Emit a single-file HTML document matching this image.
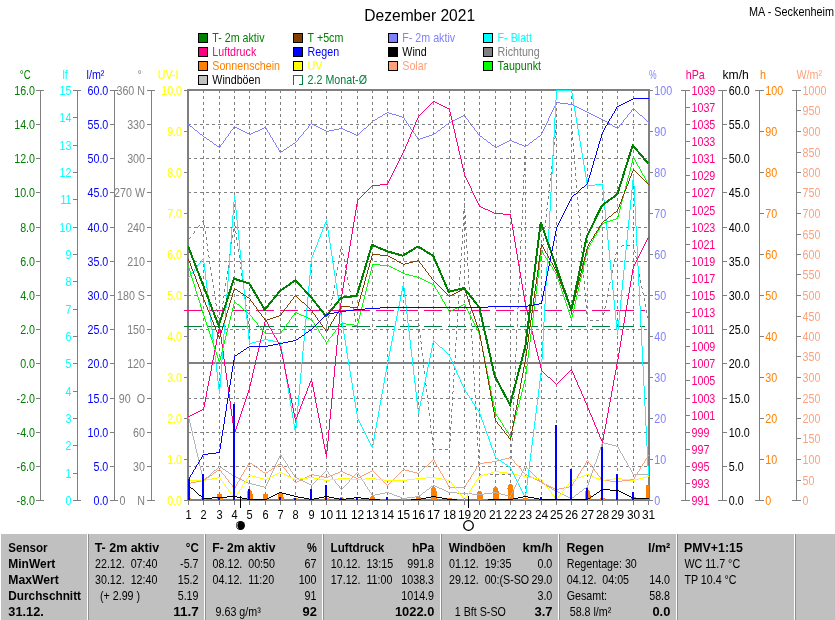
<!DOCTYPE html>
<html><head><meta charset="utf-8"><title>Dezember 2021</title>
<style>html,body{margin:0;padding:0;background:#fff;}body{width:835px;height:620px;overflow:hidden;}svg{display:block;}text{font-family:"Liberation Sans",sans-serif;white-space:pre;}</style>
</head><body>
<div style="will-change:transform;width:835px;height:620px;background:#fff">
<svg width="835" height="620" viewBox="0 0 835 620">
<rect x="0" y="0" width="835" height="620" fill="#fff"/>
<text xml:space="preserve" transform="translate(364.3 21.0) scale(1.000 1.000)" fill="#000" font-size="16" text-anchor="start" font-weight="normal"  textLength="110.8" lengthAdjust="spacingAndGlyphs">Dezember 2021</text>
<text xml:space="preserve" transform="translate(834.0 16.0) scale(1.000 1.140)" fill="#000" font-size="11" text-anchor="end" font-weight="normal"  textLength="85.0" lengthAdjust="spacingAndGlyphs">MA - Seckenheim</text>
<g shape-rendering="crispEdges">
<rect x="198.5" y="33.5" width="9" height="9" fill="#008000" stroke="#000" stroke-width="1"/>
<rect x="198.5" y="47.5" width="9" height="9" fill="#FF0080" stroke="#000" stroke-width="1"/>
<rect x="198.5" y="61.5" width="9" height="9" fill="#FF8000" stroke="#000" stroke-width="1"/>
<rect x="198.5" y="75.5" width="9" height="9" fill="#C0C0C0" stroke="#000" stroke-width="1"/>
<rect x="293.5" y="33.5" width="9" height="9" fill="#804000" stroke="#000" stroke-width="1"/>
<rect x="293.5" y="47.5" width="9" height="9" fill="#0000FF" stroke="#000" stroke-width="1"/>
<rect x="293.5" y="61.5" width="9" height="9" fill="#FFFF00" stroke="#000" stroke-width="1"/>
<path d="M293.5 85.0 V75.5 H302.5 V84.5 H299.0" fill="none" stroke="#008040" stroke-width="1"/>
<rect x="388.5" y="33.5" width="9" height="9" fill="#8080FF" stroke="#000" stroke-width="1"/>
<rect x="388.5" y="47.5" width="9" height="9" fill="#000" stroke="#000" stroke-width="1"/>
<rect x="388.5" y="61.5" width="9" height="9" fill="#FFA07A" stroke="#000" stroke-width="1"/>
<rect x="483.5" y="33.5" width="9" height="9" fill="#00FFFF" stroke="#000" stroke-width="1"/>
<rect x="483.5" y="47.5" width="9" height="9" fill="#808080" stroke="#000" stroke-width="1"/>
<rect x="483.5" y="61.5" width="9" height="9" fill="#00FF00" stroke="#000" stroke-width="1"/>
</g>
<text xml:space="preserve" transform="translate(212.3 42.0) scale(0.972 1.140)" fill="#008000" font-size="11" text-anchor="start" font-weight="normal" >T- 2m aktiv</text>
<text xml:space="preserve" transform="translate(212.3 56.0) scale(0.972 1.140)" fill="#FF0080" font-size="11" text-anchor="start" font-weight="normal" >Luftdruck</text>
<text xml:space="preserve" transform="translate(212.3 70.0) scale(0.972 1.140)" fill="#FF8000" font-size="11" text-anchor="start" font-weight="normal" >Sonnenschein</text>
<text xml:space="preserve" transform="translate(212.3 84.0) scale(0.972 1.140)" fill="#000" font-size="11" text-anchor="start" font-weight="normal" >Windböen</text>
<text xml:space="preserve" transform="translate(307.6 42.0) scale(0.972 1.140)" fill="#008000" font-size="11" text-anchor="start" font-weight="normal" >T +5cm</text>
<text xml:space="preserve" transform="translate(307.6 56.0) scale(0.972 1.140)" fill="#0000FF" font-size="11" text-anchor="start" font-weight="normal" >Regen</text>
<text xml:space="preserve" transform="translate(307.6 70.0) scale(0.972 1.140)" fill="#FFFF00" font-size="11" text-anchor="start" font-weight="normal" >UV</text>
<text xml:space="preserve" transform="translate(307.6 84.0) scale(0.972 1.140)" fill="#008040" font-size="11" text-anchor="start" font-weight="normal" >2.2 Monat-Ø</text>
<text xml:space="preserve" transform="translate(402.3 42.0) scale(0.972 1.140)" fill="#8080FF" font-size="11" text-anchor="start" font-weight="normal" >F- 2m aktiv</text>
<text xml:space="preserve" transform="translate(402.3 56.0) scale(0.972 1.140)" fill="#000" font-size="11" text-anchor="start" font-weight="normal" >Wind</text>
<text xml:space="preserve" transform="translate(402.3 70.0) scale(0.972 1.140)" fill="#FFA07A" font-size="11" text-anchor="start" font-weight="normal" >Solar</text>
<text xml:space="preserve" transform="translate(497.6 42.0) scale(0.972 1.140)" fill="#00FFFF" font-size="11" text-anchor="start" font-weight="normal" >F- Blatt</text>
<text xml:space="preserve" transform="translate(497.6 56.0) scale(0.972 1.140)" fill="#808080" font-size="11" text-anchor="start" font-weight="normal" >Richtung</text>
<text xml:space="preserve" transform="translate(497.6 70.0) scale(0.972 1.140)" fill="#008000" font-size="11" text-anchor="start" font-weight="normal" >Taupunkt</text>
<g shape-rendering="crispEdges">
<line x1="203.5" y1="90" x2="203.5" y2="499" stroke="#808080" stroke-width="1" stroke-dasharray="3 3"/>
<line x1="219.5" y1="90" x2="219.5" y2="499" stroke="#808080" stroke-width="1" stroke-dasharray="3 3"/>
<line x1="234.5" y1="90" x2="234.5" y2="499" stroke="#808080" stroke-width="1" stroke-dasharray="3 3"/>
<line x1="249.5" y1="90" x2="249.5" y2="499" stroke="#808080" stroke-width="1" stroke-dasharray="3 3"/>
<line x1="265.5" y1="90" x2="265.5" y2="499" stroke="#808080" stroke-width="1" stroke-dasharray="3 3"/>
<line x1="280.5" y1="90" x2="280.5" y2="499" stroke="#808080" stroke-width="1" stroke-dasharray="3 3"/>
<line x1="295.5" y1="90" x2="295.5" y2="499" stroke="#808080" stroke-width="1" stroke-dasharray="3 3"/>
<line x1="311.5" y1="90" x2="311.5" y2="499" stroke="#808080" stroke-width="1" stroke-dasharray="3 3"/>
<line x1="326.5" y1="90" x2="326.5" y2="499" stroke="#808080" stroke-width="1" stroke-dasharray="3 3"/>
<line x1="341.5" y1="90" x2="341.5" y2="499" stroke="#808080" stroke-width="1" stroke-dasharray="3 3"/>
<line x1="357.5" y1="90" x2="357.5" y2="499" stroke="#808080" stroke-width="1" stroke-dasharray="3 3"/>
<line x1="372.5" y1="90" x2="372.5" y2="499" stroke="#808080" stroke-width="1" stroke-dasharray="3 3"/>
<line x1="387.5" y1="90" x2="387.5" y2="499" stroke="#808080" stroke-width="1" stroke-dasharray="3 3"/>
<line x1="403.5" y1="90" x2="403.5" y2="499" stroke="#808080" stroke-width="1" stroke-dasharray="3 3"/>
<line x1="418.5" y1="90" x2="418.5" y2="499" stroke="#808080" stroke-width="1" stroke-dasharray="3 3"/>
<line x1="433.5" y1="90" x2="433.5" y2="499" stroke="#808080" stroke-width="1" stroke-dasharray="3 3"/>
<line x1="449.5" y1="90" x2="449.5" y2="499" stroke="#808080" stroke-width="1" stroke-dasharray="3 3"/>
<line x1="464.5" y1="90" x2="464.5" y2="499" stroke="#808080" stroke-width="1" stroke-dasharray="3 3"/>
<line x1="479.5" y1="90" x2="479.5" y2="499" stroke="#808080" stroke-width="1" stroke-dasharray="3 3"/>
<line x1="495.5" y1="90" x2="495.5" y2="499" stroke="#808080" stroke-width="1" stroke-dasharray="3 3"/>
<line x1="510.5" y1="90" x2="510.5" y2="499" stroke="#808080" stroke-width="1" stroke-dasharray="3 3"/>
<line x1="525.5" y1="90" x2="525.5" y2="499" stroke="#808080" stroke-width="1" stroke-dasharray="3 3"/>
<line x1="541.5" y1="90" x2="541.5" y2="499" stroke="#808080" stroke-width="1" stroke-dasharray="3 3"/>
<line x1="556.5" y1="90" x2="556.5" y2="499" stroke="#808080" stroke-width="1" stroke-dasharray="3 3"/>
<line x1="571.5" y1="90" x2="571.5" y2="499" stroke="#808080" stroke-width="1" stroke-dasharray="3 3"/>
<line x1="587.5" y1="90" x2="587.5" y2="499" stroke="#808080" stroke-width="1" stroke-dasharray="3 3"/>
<line x1="602.5" y1="90" x2="602.5" y2="499" stroke="#808080" stroke-width="1" stroke-dasharray="3 3"/>
<line x1="617.5" y1="90" x2="617.5" y2="499" stroke="#808080" stroke-width="1" stroke-dasharray="3 3"/>
<line x1="633.5" y1="90" x2="633.5" y2="499" stroke="#808080" stroke-width="1" stroke-dasharray="3 3"/>
<line x1="188" y1="124.5" x2="648" y2="124.5" stroke="#808080" stroke-width="1" stroke-dasharray="3 3"/>
<line x1="188" y1="158.5" x2="648" y2="158.5" stroke="#808080" stroke-width="1" stroke-dasharray="3 3"/>
<line x1="188" y1="192.5" x2="648" y2="192.5" stroke="#808080" stroke-width="1" stroke-dasharray="3 3"/>
<line x1="188" y1="227.5" x2="648" y2="227.5" stroke="#808080" stroke-width="1" stroke-dasharray="3 3"/>
<line x1="188" y1="261.5" x2="648" y2="261.5" stroke="#808080" stroke-width="1" stroke-dasharray="3 3"/>
<line x1="188" y1="295.5" x2="648" y2="295.5" stroke="#808080" stroke-width="1" stroke-dasharray="3 3"/>
<line x1="188" y1="329.5" x2="648" y2="329.5" stroke="#808080" stroke-width="1" stroke-dasharray="3 3"/>
<line x1="188" y1="398.5" x2="648" y2="398.5" stroke="#808080" stroke-width="1" stroke-dasharray="3 3"/>
<line x1="188" y1="432.5" x2="648" y2="432.5" stroke="#808080" stroke-width="1" stroke-dasharray="3 3"/>
<line x1="188" y1="466.5" x2="648" y2="466.5" stroke="#808080" stroke-width="1" stroke-dasharray="3 3"/>
</g>
<g shape-rendering="crispEdges">
<rect x="187" y="89" width="462" height="2" fill="#808080"/>
<rect x="187" y="89" width="2" height="412" fill="#808080"/>
<rect x="648" y="89" width="2" height="412" fill="#808080"/>
<rect x="187" y="499" width="463" height="2" fill="#808080"/>
<rect x="188" y="501" width="1" height="4" fill="#808080"/>
<rect x="203" y="501" width="1" height="4" fill="#808080"/>
<rect x="219" y="501" width="1" height="4" fill="#808080"/>
<rect x="234" y="501" width="1" height="4" fill="#808080"/>
<rect x="249" y="501" width="1" height="4" fill="#808080"/>
<rect x="265" y="501" width="1" height="4" fill="#808080"/>
<rect x="280" y="501" width="1" height="4" fill="#808080"/>
<rect x="295" y="501" width="1" height="4" fill="#808080"/>
<rect x="311" y="501" width="1" height="4" fill="#808080"/>
<rect x="326" y="501" width="1" height="4" fill="#808080"/>
<rect x="341" y="501" width="1" height="4" fill="#808080"/>
<rect x="357" y="501" width="1" height="4" fill="#808080"/>
<rect x="372" y="501" width="1" height="4" fill="#808080"/>
<rect x="387" y="501" width="1" height="4" fill="#808080"/>
<rect x="403" y="501" width="1" height="4" fill="#808080"/>
<rect x="418" y="501" width="1" height="4" fill="#808080"/>
<rect x="433" y="501" width="1" height="4" fill="#808080"/>
<rect x="449" y="501" width="1" height="4" fill="#808080"/>
<rect x="464" y="501" width="1" height="4" fill="#808080"/>
<rect x="479" y="501" width="1" height="4" fill="#808080"/>
<rect x="495" y="501" width="1" height="4" fill="#808080"/>
<rect x="510" y="501" width="1" height="4" fill="#808080"/>
<rect x="525" y="501" width="1" height="4" fill="#808080"/>
<rect x="541" y="501" width="1" height="4" fill="#808080"/>
<rect x="556" y="501" width="1" height="4" fill="#808080"/>
<rect x="571" y="501" width="1" height="4" fill="#808080"/>
<rect x="587" y="501" width="1" height="4" fill="#808080"/>
<rect x="602" y="501" width="1" height="4" fill="#808080"/>
<rect x="617" y="501" width="1" height="4" fill="#808080"/>
<rect x="633" y="501" width="1" height="4" fill="#808080"/>
<rect x="648" y="501" width="1" height="4" fill="#808080"/>
</g>
<g shape-rendering="crispEdges">
<line x1="184" y1="310.5" x2="645" y2="310.5" stroke="#FF0080" stroke-width="1" stroke-dasharray="18 6"/>
<line x1="184" y1="326.5" x2="645" y2="326.5" stroke="#008040" stroke-width="1" stroke-dasharray="18 6"/>
</g>
<defs><clipPath id="cp"><rect x="188" y="90" width="461" height="411"/></clipPath></defs>
<g clip-path="url(#cp)" shape-rendering="crispEdges" stroke-linejoin="miter">
<path d="M232.5 235v3M230.5 247v3M241.5 273v3M244.5 291v3M210.5 267v3M236.5 237v3M222.5 307v3M220.5 319v3M212.5 279v3M242.5 279v3M246.5 309v3M206.5 237v3M249.5 327v3M218.5 321v3M233.5 229v3M228.5 265v3M209.5 261v3M239.5 255v3M231.5 241v3M224.5 289v3M205.5 231v3M215.5 297v3M221.5 313v3M227.5 271v3M225.5 283v3M248.5 321v3M238.5 249v3M204.5 225v3M214.5 291v3M247.5 315v3M234.5 223v3M226.5 277v3M213.5 285v3M237.5 243v3M245.5 297v3M243.5 285v3M211.5 273v3M219.5 325v3M203 220.5h1M202 221.5h2M199 225.5h1M198 226.5h1M235 226.5h1M197 227.5h1M235 227.5h1M194 231.5h1M235 231.5h1M194 232.5h1M235 232.5h1M193 233.5h1M236 233.5h1M190 237.5h1M189 238.5h1M188 239.5h1M206 243.5h1M207 244.5h1M207 245.5h1M207 249.5h1M207 250.5h1M208 251.5h1M230 253.5h1M229 254.5h1M208 255.5h1M229 255.5h1M208 256.5h1M209 257.5h1M229 259.5h1M229 260.5h1M228 261.5h1M239 261.5h1M240 262.5h1M240 263.5h1M240 267.5h1M240 268.5h1M241 269.5h1M224 295.5h1M223 296.5h1M223 297.5h1M223 301.5h1M223 302.5h1M215 303.5h1M222 303.5h1M245 303.5h1M216 304.5h1M245 304.5h1M216 305.5h1M246 305.5h1M216 309.5h1M216 310.5h1M217 311.5h1M217 315.5h1M217 316.5h1M218 317.5h1" fill="none" stroke="#808080" stroke-width="1"/>
<path d="M347.5 277v3M340.5 249v3M338.5 261v3M344.5 259v3M326.5 327v3M336.5 273v3M334.5 285v3M355.5 319v3M335.5 279v3M352.5 301v3M327.5 321v3M354.5 313v3M333.5 291v3M345.5 265v3M353.5 307v3M339.5 255v3M337.5 267v3M346.5 271v3M341 247.5h1M341 248.5h1M342 249.5h1M342 253.5h1M343 254.5h1M343 255.5h1M348 283.5h1M348 284.5h1M349 285.5h1M349 289.5h1M349 290.5h1M350 291.5h1M350 295.5h1M351 296.5h1M332 297.5h1M351 297.5h1M332 298.5h1M331 299.5h1M331 303.5h1M331 304.5h1M330 305.5h1M330 309.5h1M329 310.5h1M329 311.5h1M329 315.5h1M328 316.5h1M328 317.5h1M356 325.5h1M356 326.5h1M357 327.5h1" fill="none" stroke="#808080" stroke-width="1"/>
<path d="M372 320.5h3M378 320.5h3M384 320.5h3" fill="none" stroke="#808080" stroke-width="1"/>
<path d="M521.5 222v3M521.5 228v3M521.5 234v3M467.5 251v3M467.5 257v3M467.5 263v3M514.5 378v3M514.5 384v3M514.5 390v3M511.5 444v3M511.5 450v3M511.5 456v3M420.5 335v3M523.5 180v3M523.5 186v3M523.5 192v3M522.5 198v3M522.5 204v3M522.5 210v3M522.5 216v3M512.5 420v3M512.5 426v3M512.5 432v3M512.5 438v3M524.5 156v3M524.5 162v3M524.5 168v3M475.5 395v3M475.5 401v3M475.5 407v3M459.5 277v3M459.5 283v3M459.5 289v3M452.5 397v3M452.5 403v3M460.5 265v3M460.5 271v3M453.5 379v3M453.5 385v3M432.5 437v3M419.5 329v3M470.5 305v3M470.5 311v3M470.5 317v3M520.5 246v3M520.5 252v3M520.5 258v3M472.5 341v3M472.5 347v3M472.5 353v3M465.5 215v3M465.5 221v3M465.5 227v3M477.5 431v3M477.5 437v3M477.5 443v3M429.5 413v3M451.5 409v3M451.5 415v3M451.5 421v3M464.5 203v5M464.5 209v3M431.5 431v3M458.5 295v3M458.5 301v3M458.5 307v3M428.5 407v3M422.5 353v3M450.5 427v3M450.5 433v3M519.5 264v3M519.5 270v3M519.5 276v3M519.5 282v3M474.5 377v3M474.5 383v3M474.5 389v3M457.5 313v3M457.5 319v3M469.5 287v3M469.5 293v3M469.5 299v3M518.5 288v3M518.5 294v3M518.5 300v3M449.5 445v3M510.5 468v3M479.5 467v3M466.5 233v3M466.5 239v3M466.5 245v3M430.5 419v3M430.5 425v3M516.5 330v3M516.5 336v3M516.5 342v3M516.5 348v3M476.5 413v3M476.5 419v3M476.5 425v3M456.5 331v3M456.5 337v3M471.5 323v3M471.5 329v3M471.5 335v3M517.5 312v3M517.5 318v3M517.5 324v3M463.5 211v3M463.5 217v3M463.5 223v3M425.5 377v3M525.5 144v3M525.5 150v3M468.5 269v3M468.5 275v3M468.5 281v3M454.5 361v3M454.5 367v3M455.5 343v3M455.5 349v3M455.5 355v3M462.5 229v3M462.5 235v3M462.5 241v3M478.5 449v3M478.5 455v3M478.5 461v3M427.5 395v3M473.5 359v3M473.5 365v3M473.5 371v3M515.5 354v3M515.5 360v3M515.5 366v3M515.5 372v3M461.5 247v3M461.5 253v3M424.5 371v3M513.5 402v3M513.5 408v3M513.5 414v3M421.5 347v3M423.5 359v3M423.5 365v3M426.5 389v3M524 174.5h1M523 175.5h1M523 176.5h1M521 240.5h1M520 241.5h1M520 242.5h1M461 259.5h1M460 260.5h1M460 261.5h1M518 306.5h1M518 307.5h1M517 308.5h1M403 320.5h3M409 320.5h3M415 320.5h3M418 323.5h1M418 324.5h1M419 325.5h1M457 325.5h1M456 326.5h1M456 327.5h1M420 341.5h1M421 342.5h1M421 343.5h1M454 373.5h1M454 374.5h1M453 375.5h1M425 383.5h1M425 384.5h1M426 385.5h1M453 391.5h1M452 392.5h1M452 393.5h1M514 396.5h1M513 397.5h1M513 398.5h1M427 401.5h1M428 402.5h1M428 403.5h1M450 439.5h1M450 440.5h1M449 441.5h1M432 443.5h1M432 444.5h1M433 445.5h1M433 449.5h3M439 449.5h3M445 449.5h3M511 462.5h1M510 463.5h1M510 464.5h1M479 473.5h1M479 474.5h2M484 474.5h3M490 474.5h3M496 474.5h3M502 474.5h3M508 474.5h3" fill="none" stroke="#808080" stroke-width="1"/>
<path d="M577.5 197v3M638.5 268v3M548.5 196v3M549.5 184v3M583.5 269v3M583.5 275v3M547.5 202v3M552.5 160v3M613.5 264v3M586.5 305v3M586.5 311v3M633.5 244v3M551.5 166v3M644.5 298v3M554.5 142v3M579.5 221v3M542.5 250v3M572.5 131v3M572.5 137v3M580.5 233v3M556.5 124v3M545.5 220v3M611.5 276v3M576.5 185v3M584.5 281v3M584.5 287v3M573.5 143v3M573.5 149v3M544.5 232v3M608.5 288v3M606.5 300v3M541.5 256v3M555.5 130v3M646.5 310v3M585.5 293v3M585.5 299v3M612.5 270v3M574.5 155v3M574.5 161v3M582.5 257v3M575.5 167v3M575.5 173v3M645.5 304v3M602.5 318v3M587.5 317v3M607.5 294v3M581.5 245v3M639.5 274v3M617.5 246v3M546.5 214v3M553.5 148v3M578.5 209v3M571.5 125v3M543.5 238v3M637.5 262v3M640.5 280v3M550.5 178v3M560 124.5h3M566 124.5h3M555 136.5h1M555 137.5h1M554 138.5h1M553 154.5h1M553 155.5h1M552 156.5h1M551 172.5h1M551 173.5h1M550 174.5h1M575 179.5h1M576 180.5h1M576 181.5h1M549 190.5h1M548 191.5h1M576 191.5h1M548 192.5h1M577 192.5h1M577 193.5h1M577 203.5h1M578 204.5h1M578 205.5h1M547 208.5h1M546 209.5h1M546 210.5h1M578 215.5h1M579 216.5h1M579 217.5h1M545 226.5h1M544 227.5h1M579 227.5h1M544 228.5h1M579 228.5h1M580 229.5h1M580 239.5h1M580 240.5h1M581 241.5h1M543 244.5h1M542 245.5h1M622 245.5h2M627 245.5h3M542 246.5h1M621 246.5h1M634 250.5h1M581 251.5h1M634 251.5h1M581 252.5h1M616 252.5h1M635 252.5h1M582 253.5h1M616 253.5h1M615 254.5h1M635 256.5h1M636 257.5h1M615 258.5h1M636 258.5h1M614 259.5h1M614 260.5h1M582 263.5h1M582 264.5h1M583 265.5h1M610 282.5h1M609 283.5h1M609 284.5h1M641 286.5h1M641 287.5h1M642 288.5h1M642 292.5h1M643 293.5h1M643 294.5h1M605 306.5h1M605 307.5h1M604 308.5h1M604 312.5h1M603 313.5h1M603 314.5h1M647 316.5h1M647 317.5h1M648 318.5h1M590 320.5h3M596 320.5h3" fill="none" stroke="#808080" stroke-width="1"/>
<path d="M185.5 501 V500.0 A3.0 2.5 0 0 1 191.5 500.0 V501 Z" fill="#FF8000"/>
<path d="M200.5 501 V500.0 A3.0 2.0 0 0 1 206.5 500.0 V501 Z" fill="#FF8000"/>
<path d="M216.5 501 V498.1 A3.0 4.5 0 0 1 222.5 498.1 V501 Z" fill="#FF8000"/>
<path d="M246.5 501 V494.3 A3.0 4.5 0 0 1 252.5 494.3 V501 Z" fill="#FF8000"/>
<path d="M262.5 501 V498.1 A3.0 4.5 0 0 1 268.5 498.1 V501 Z" fill="#FF8000"/>
<path d="M277.5 501 V497.2 A3.0 4.5 0 0 1 283.5 497.2 V501 Z" fill="#FF8000"/>
<path d="M292.5 501 V500.0 A3.0 2.0 0 0 1 298.5 500.0 V501 Z" fill="#FF8000"/>
<path d="M323.5 501 V500.0 A3.0 2.0 0 0 1 329.5 500.0 V501 Z" fill="#FF8000"/>
<path d="M338.5 501 V500.0 A3.0 3.0 0 0 1 344.5 500.0 V501 Z" fill="#FF8000"/>
<path d="M354.5 501 V500.0 A3.0 1.5 0 0 1 360.5 500.0 V501 Z" fill="#FF8000"/>
<path d="M369.5 501 V500.0 A3.0 4.0 0 0 1 375.5 500.0 V501 Z" fill="#FF8000"/>
<path d="M400.5 501 V500.0 A3.0 2.0 0 0 1 406.5 500.0 V501 Z" fill="#FF8000"/>
<path d="M415.5 501 V500.0 A3.0 4.0 0 0 1 421.5 500.0 V501 Z" fill="#FF8000"/>
<path d="M430.5 501 V491.4 A3.0 4.5 0 0 1 436.5 491.4 V501 Z" fill="#FF8000"/>
<path d="M446.5 501 V500.0 A3.0 2.5 0 0 1 452.5 500.0 V501 Z" fill="#FF8000"/>
<path d="M476.5 501 V495.2 A3.0 4.5 0 0 1 482.5 495.2 V501 Z" fill="#FF8000"/>
<path d="M492.5 501 V491.4 A3.0 4.5 0 0 1 498.5 491.4 V501 Z" fill="#FF8000"/>
<path d="M507.5 501 V488.5 A3.0 4.5 0 0 1 513.5 488.5 V501 Z" fill="#FF8000"/>
<path d="M522.5 501 V500.0 A3.0 2.0 0 0 1 528.5 500.0 V501 Z" fill="#FF8000"/>
<path d="M568.5 501 V500.0 A3.0 1.5 0 0 1 574.5 500.0 V501 Z" fill="#FF8000"/>
<path d="M584.5 501 V494.7 A3.0 4.5 0 0 1 590.5 494.7 V501 Z" fill="#FF8000"/>
<path d="M599.5 501 V500.0 A3.0 2.0 0 0 1 605.5 500.0 V501 Z" fill="#FF8000"/>
<path d="M614.5 501 V500.0 A3.0 1.5 0 0 1 620.5 500.0 V501 Z" fill="#FF8000"/>
<path d="M630.5 501 V500.0 A3.0 3.6 0 0 1 636.5 500.0 V501 Z" fill="#FF8000"/>
<path d="M645.5 501 V489.0 A3.0 4.5 0 0 1 651.5 489.0 V501 Z" fill="#FF8000"/>
<rect x="188" y="362" width="461" height="2" fill="#808080"/>
<path d="M193.5 436v4M591.5 473v3M189.5 419v4M199.5 461v5M192.5 431v5M275.5 464v3M598.5 453v3M590.5 476v3M594.5 464v3M589.5 479v3M202.5 474v4M198.5 457v4M270.5 475v3M597.5 456v3M601.5 444v3M195.5 444v5M191.5 427v4M593.5 467v3M188.5 416v3M201.5 470v4M588.5 482v3M194.5 440v4M592.5 470v3M197.5 453v4M596.5 459v3M190.5 423v4M200.5 466v4M203.5 478v3M196.5 449v4M600.5 447v3M599.5 450v3M602 442.5h2M602 443.5h1M604 443.5h4M608 444.5h4M612 445.5h4M616 446.5h2M618 447.5h1M618 448.5h1M619 449.5h1M619 450.5h1M620 451.5h1M620 452.5h1M621 453.5h1M280 454.5h1M622 454.5h1M280 455.5h2M622 455.5h1M279 456.5h1M281 456.5h1M623 456.5h1M279 457.5h1M282 457.5h1M623 457.5h1M278 458.5h1M283 458.5h1M624 458.5h1M278 459.5h1M283 459.5h1M624 459.5h1M277 460.5h1M284 460.5h1M625 460.5h1M277 461.5h1M285 461.5h1M626 461.5h1M276 462.5h1M285 462.5h1M595 462.5h1M626 462.5h1M276 463.5h1M286 463.5h1M595 463.5h1M627 463.5h1M287 464.5h1M627 464.5h1M287 465.5h1M628 465.5h1M219 466.5h1M288 466.5h1M525 466.5h1M628 466.5h1M218 467.5h1M220 467.5h2M274 467.5h1M288 467.5h1M524 467.5h1M526 467.5h1M629 467.5h1M217 468.5h1M222 468.5h1M274 468.5h1M289 468.5h1M524 468.5h1M527 468.5h1M630 468.5h1M216 469.5h1M223 469.5h2M273 469.5h1M290 469.5h1M523 469.5h1M528 469.5h1M630 469.5h1M214 470.5h2M225 470.5h1M273 470.5h1M290 470.5h1M326 470.5h1M523 470.5h1M529 470.5h1M631 470.5h1M213 471.5h1M226 471.5h2M272 471.5h1M291 471.5h1M325 471.5h1M327 471.5h1M522 471.5h1M530 471.5h1M631 471.5h1M212 472.5h1M228 472.5h1M272 472.5h1M292 472.5h1M324 472.5h1M328 472.5h1M357 472.5h1M522 472.5h1M531 472.5h1M632 472.5h1M211 473.5h1M229 473.5h2M271 473.5h1M292 473.5h1M323 473.5h1M328 473.5h1M356 473.5h1M358 473.5h1M521 473.5h1M532 473.5h1M632 473.5h1M210 474.5h1M231 474.5h1M271 474.5h1M293 474.5h1M322 474.5h1M329 474.5h1M355 474.5h1M358 474.5h1M521 474.5h1M533 474.5h1M633 474.5h16M209 475.5h1M232 475.5h2M294 475.5h1M321 475.5h1M330 475.5h1M354 475.5h1M359 475.5h1M520 475.5h1M534 475.5h1M208 476.5h1M234 476.5h2M294 476.5h1M320 476.5h1M331 476.5h1M353 476.5h1M360 476.5h1M520 476.5h1M535 476.5h1M206 477.5h2M236 477.5h2M295 477.5h2M319 477.5h1M332 477.5h1M352 477.5h1M360 477.5h1M519 477.5h1M536 477.5h1M205 478.5h1M238 478.5h2M269 478.5h1M297 478.5h2M318 478.5h1M332 478.5h1M351 478.5h1M361 478.5h1M519 478.5h1M537 478.5h1M204 479.5h1M240 479.5h2M269 479.5h1M299 479.5h2M317 479.5h1M333 479.5h1M350 479.5h1M362 479.5h1M518 479.5h1M538 479.5h1M242 480.5h2M268 480.5h1M301 480.5h2M316 480.5h1M334 480.5h1M349 480.5h1M362 480.5h1M518 480.5h1M539 480.5h1M244 481.5h2M268 481.5h1M303 481.5h2M315 481.5h1M335 481.5h1M349 481.5h1M363 481.5h1M517 481.5h1M540 481.5h1M246 482.5h2M267 482.5h1M305 482.5h2M314 482.5h1M335 482.5h1M348 482.5h1M364 482.5h1M517 482.5h1M541 482.5h1M248 483.5h4M267 483.5h1M307 483.5h2M313 483.5h1M336 483.5h1M347 483.5h1M364 483.5h1M516 483.5h1M542 483.5h2M252 484.5h4M266 484.5h1M309 484.5h2M312 484.5h1M337 484.5h1M346 484.5h1M365 484.5h1M516 484.5h1M544 484.5h2M256 485.5h4M266 485.5h1M311 485.5h1M338 485.5h1M345 485.5h1M365 485.5h1M433 485.5h2M515 485.5h1M546 485.5h1M587 485.5h1M260 486.5h4M265 486.5h1M339 486.5h1M344 486.5h1M366 486.5h1M431 486.5h2M435 486.5h2M515 486.5h1M547 486.5h2M587 486.5h1M264 487.5h2M339 487.5h1M343 487.5h1M367 487.5h1M430 487.5h1M437 487.5h2M514 487.5h1M549 487.5h2M586 487.5h1M340 488.5h1M342 488.5h1M367 488.5h1M429 488.5h1M439 488.5h3M514 488.5h1M551 488.5h1M584 488.5h2M341 489.5h1M368 489.5h1M427 489.5h2M442 489.5h2M513 489.5h1M552 489.5h2M583 489.5h1M369 490.5h1M426 490.5h1M444 490.5h2M513 490.5h1M554 490.5h2M582 490.5h1M369 491.5h1M425 491.5h1M446 491.5h2M512 491.5h1M556 491.5h2M580 491.5h2M370 492.5h1M385 492.5h4M423 492.5h2M448 492.5h9M492 492.5h5M512 492.5h1M558 492.5h2M579 492.5h1M371 493.5h1M380 493.5h5M389 493.5h3M422 493.5h1M457 493.5h15M484 493.5h8M497 493.5h4M511 493.5h1M560 493.5h2M578 493.5h1M371 494.5h1M375 494.5h5M392 494.5h2M421 494.5h1M472 494.5h12M501 494.5h4M511 494.5h1M562 494.5h2M576 494.5h2M372 495.5h3M394 495.5h3M419 495.5h2M505 495.5h4M510 495.5h1M564 495.5h2M575 495.5h1M397 496.5h3M415 496.5h4M509 496.5h2M566 496.5h2M574 496.5h1M400 497.5h2M407 497.5h8M568 497.5h2M572 497.5h2M402 498.5h5M570 498.5h2" fill="none" stroke="#B4B4B4" stroke-width="1"/>
<path d="M648 455.5h1M647 456.5h1M509 457.5h2M647 457.5h1M505 458.5h4M511 458.5h1M646 458.5h1M433 459.5h1M501 459.5h4M512 459.5h1M645 459.5h1M432 460.5h1M434 460.5h1M497 460.5h4M513 460.5h1M587 460.5h1M645 460.5h1M431 461.5h1M434 461.5h1M492 461.5h5M514 461.5h1M586 461.5h1M588 461.5h1M644 461.5h1M249 462.5h1M430 462.5h1M435 462.5h1M484 462.5h8M514 462.5h1M586 462.5h1M588 462.5h1M644 462.5h1M248 463.5h1M250 463.5h2M280 463.5h1M429 463.5h1M435 463.5h1M479 463.5h5M515 463.5h1M585 463.5h1M589 463.5h1M643 463.5h1M248 464.5h1M252 464.5h1M278 464.5h2M281 464.5h1M428 464.5h1M436 464.5h1M478 464.5h1M516 464.5h1M585 464.5h1M590 464.5h1M642 464.5h1M247 465.5h1M253 465.5h2M277 465.5h1M282 465.5h1M427 465.5h1M436 465.5h1M478 465.5h1M517 465.5h1M584 465.5h1M591 465.5h1M642 465.5h1M247 466.5h1M255 466.5h1M275 466.5h2M282 466.5h1M425 466.5h2M437 466.5h1M477 466.5h1M518 466.5h1M583 466.5h1M591 466.5h1M641 466.5h1M246 467.5h1M256 467.5h2M274 467.5h1M283 467.5h1M424 467.5h1M438 467.5h1M476 467.5h1M519 467.5h1M583 467.5h1M592 467.5h1M640 467.5h1M246 468.5h1M258 468.5h1M272 468.5h2M284 468.5h1M423 468.5h1M438 468.5h1M476 468.5h1M520 468.5h1M582 468.5h1M593 468.5h1M640 468.5h1M219 469.5h1M245 469.5h1M259 469.5h1M271 469.5h1M285 469.5h1M403 469.5h2M422 469.5h1M439 469.5h1M475 469.5h1M521 469.5h1M581 469.5h1M594 469.5h1M639 469.5h1M217 470.5h2M220 470.5h1M244 470.5h1M260 470.5h2M269 470.5h2M286 470.5h1M372 470.5h1M402 470.5h1M405 470.5h4M421 470.5h1M439 470.5h1M475 470.5h1M521 470.5h1M581 470.5h1M594 470.5h1M639 470.5h1M216 471.5h1M221 471.5h1M244 471.5h1M262 471.5h1M268 471.5h1M286 471.5h1M340 471.5h3M370 471.5h2M373 471.5h1M401 471.5h1M409 471.5h4M420 471.5h1M440 471.5h1M474 471.5h1M522 471.5h1M580 471.5h1M595 471.5h1M638 471.5h1M214 472.5h2M221 472.5h1M243 472.5h1M263 472.5h2M266 472.5h2M287 472.5h1M338 472.5h2M343 472.5h2M368 472.5h2M374 472.5h1M400 472.5h1M413 472.5h4M419 472.5h1M440 472.5h1M473 472.5h1M523 472.5h1M580 472.5h1M596 472.5h1M637 472.5h1M213 473.5h1M222 473.5h1M243 473.5h1M265 473.5h1M288 473.5h1M335 473.5h3M345 473.5h2M366 473.5h2M375 473.5h1M399 473.5h1M417 473.5h2M441 473.5h1M473 473.5h1M524 473.5h1M579 473.5h1M597 473.5h1M637 473.5h1M212 474.5h1M223 474.5h1M242 474.5h1M289 474.5h1M311 474.5h3M333 474.5h2M347 474.5h3M364 474.5h2M376 474.5h1M398 474.5h1M442 474.5h1M472 474.5h1M525 474.5h2M578 474.5h1M597 474.5h1M636 474.5h1M210 475.5h2M224 475.5h1M241 475.5h1M289 475.5h1M309 475.5h2M314 475.5h5M330 475.5h3M350 475.5h2M362 475.5h2M377 475.5h1M397 475.5h1M442 475.5h1M471 475.5h1M527 475.5h2M578 475.5h1M598 475.5h1M635 475.5h1M209 476.5h1M225 476.5h1M241 476.5h1M290 476.5h1M307 476.5h2M319 476.5h5M328 476.5h2M352 476.5h2M360 476.5h2M378 476.5h1M396 476.5h1M443 476.5h1M471 476.5h1M529 476.5h2M577 476.5h1M599 476.5h1M635 476.5h1M207 477.5h2M225 477.5h1M240 477.5h1M291 477.5h1M305 477.5h2M324 477.5h4M354 477.5h2M358 477.5h2M379 477.5h1M395 477.5h1M443 477.5h1M470 477.5h1M531 477.5h2M577 477.5h1M600 477.5h1M634 477.5h1M206 478.5h1M226 478.5h1M240 478.5h1M292 478.5h1M303 478.5h2M356 478.5h2M380 478.5h1M394 478.5h1M444 478.5h1M470 478.5h1M533 478.5h2M576 478.5h1M600 478.5h1M634 478.5h1M204 479.5h2M227 479.5h1M239 479.5h1M293 479.5h1M301 479.5h2M381 479.5h1M393 479.5h1M444 479.5h1M469 479.5h1M535 479.5h2M575 479.5h1M601 479.5h1M630 479.5h4M201 480.5h3M228 480.5h1M239 480.5h1M293 480.5h1M299 480.5h2M382 480.5h1M392 480.5h1M445 480.5h1M468 480.5h1M537 480.5h2M575 480.5h1M602 480.5h8M622 480.5h8M196 481.5h5M228 481.5h1M238 481.5h1M294 481.5h1M297 481.5h2M383 481.5h1M391 481.5h1M446 481.5h1M468 481.5h1M539 481.5h2M574 481.5h1M610 481.5h12M191 482.5h5M229 482.5h1M237 482.5h1M295 482.5h2M384 482.5h1M390 482.5h1M446 482.5h1M467 482.5h1M541 482.5h2M573 482.5h1M188 483.5h3M230 483.5h1M237 483.5h1M385 483.5h1M389 483.5h1M447 483.5h1M466 483.5h1M543 483.5h2M573 483.5h1M231 484.5h1M236 484.5h1M386 484.5h1M388 484.5h1M447 484.5h1M466 484.5h1M545 484.5h2M572 484.5h1M232 485.5h1M236 485.5h1M387 485.5h1M448 485.5h1M465 485.5h1M547 485.5h2M572 485.5h1M232 486.5h1M235 486.5h1M448 486.5h1M465 486.5h1M549 486.5h2M569 486.5h3M233 487.5h1M235 487.5h1M449 487.5h16M551 487.5h2M564 487.5h5M234 488.5h1M553 488.5h2M559 488.5h5M555 489.5h4" fill="none" stroke="#FFA07A" stroke-width="1"/>
<path d="M494 471.5h5M279 472.5h3M491 472.5h3M499 472.5h8M277 473.5h2M282 473.5h2M488 473.5h3M507 473.5h6M275 474.5h2M284 474.5h2M484 474.5h4M513 474.5h5M586 474.5h3M249 475.5h3M273 475.5h2M286 475.5h2M481 475.5h3M518 475.5h5M584 475.5h2M589 475.5h2M248 476.5h1M252 476.5h4M271 476.5h2M288 476.5h2M479 476.5h2M523 476.5h5M581 476.5h3M591 476.5h3M647 476.5h2M217 477.5h3M248 477.5h1M256 477.5h4M269 477.5h2M290 477.5h2M308 477.5h6M426 477.5h10M478 477.5h1M528 477.5h6M578 477.5h3M594 477.5h2M643 477.5h4M212 478.5h5M220 478.5h1M247 478.5h1M260 478.5h4M267 478.5h2M292 478.5h2M300 478.5h8M314 478.5h5M338 478.5h12M365 478.5h11M415 478.5h11M436 478.5h6M478 478.5h1M534 478.5h5M576 478.5h2M596 478.5h3M614 478.5h8M639 478.5h4M206 479.5h6M220 479.5h1M246 479.5h1M264 479.5h3M294 479.5h6M319 479.5h5M330 479.5h8M350 479.5h15M376 479.5h8M407 479.5h8M442 479.5h5M477 479.5h1M539 479.5h3M573 479.5h3M599 479.5h2M606 479.5h8M622 479.5h8M635 479.5h4M188 480.5h18M221 480.5h1M246 480.5h1M324 480.5h6M384 480.5h23M447 480.5h3M476 480.5h1M542 480.5h1M571 480.5h2M601 480.5h5M630 480.5h5M222 481.5h1M245 481.5h1M450 481.5h1M476 481.5h1M542 481.5h1M570 481.5h1M223 482.5h1M244 482.5h1M451 482.5h1M475 482.5h1M543 482.5h1M569 482.5h1M223 483.5h1M244 483.5h1M451 483.5h1M474 483.5h1M544 483.5h1M569 483.5h1M224 484.5h1M243 484.5h1M452 484.5h1M474 484.5h1M545 484.5h1M568 484.5h1M225 485.5h1M242 485.5h1M453 485.5h1M473 485.5h1M545 485.5h1M567 485.5h1M225 486.5h1M242 486.5h1M454 486.5h1M472 486.5h1M546 486.5h1M566 486.5h1M226 487.5h1M241 487.5h1M455 487.5h1M472 487.5h1M547 487.5h1M565 487.5h1M227 488.5h1M241 488.5h1M455 488.5h1M471 488.5h1M548 488.5h1M565 488.5h1M228 489.5h1M240 489.5h1M456 489.5h1M471 489.5h1M548 489.5h1M564 489.5h1M228 490.5h1M239 490.5h1M457 490.5h1M470 490.5h1M549 490.5h1M563 490.5h1M229 491.5h1M239 491.5h1M458 491.5h1M469 491.5h1M550 491.5h1M562 491.5h1M230 492.5h1M238 492.5h1M458 492.5h1M469 492.5h1M551 492.5h1M562 492.5h1M230 493.5h1M237 493.5h1M459 493.5h1M468 493.5h1M551 493.5h1M561 493.5h1M231 494.5h1M237 494.5h1M460 494.5h1M467 494.5h1M552 494.5h1M560 494.5h1M232 495.5h1M236 495.5h1M461 495.5h1M467 495.5h1M553 495.5h1M559 495.5h1M233 496.5h1M235 496.5h1M462 496.5h1M466 496.5h1M554 496.5h1M558 496.5h1M233 497.5h1M235 497.5h1M462 497.5h1M465 497.5h1M554 497.5h1M558 497.5h1M234 498.5h1M463 498.5h1M465 498.5h1M555 498.5h1M557 498.5h1M464 499.5h1M556 499.5h1" fill="none" stroke="#FFFF00" stroke-width="1"/>
<path d="M548.5 118v3M556 102.5h4M556 103.5h1M560 103.5h8M555 104.5h1M568 104.5h5M555 105.5h1M573 105.5h2M554 106.5h1M575 106.5h2M554 107.5h1M577 107.5h2M553 108.5h1M579 108.5h2M633 108.5h1M553 109.5h1M581 109.5h2M632 109.5h1M634 109.5h1M552 110.5h1M583 110.5h2M631 110.5h1M635 110.5h1M552 111.5h1M585 111.5h2M631 111.5h1M636 111.5h1M387 112.5h2M551 112.5h1M587 112.5h2M630 112.5h1M637 112.5h1M385 113.5h2M389 113.5h3M551 113.5h1M589 113.5h2M629 113.5h1M638 113.5h1M383 114.5h2M392 114.5h4M550 114.5h1M591 114.5h2M628 114.5h1M639 114.5h1M382 115.5h1M396 115.5h3M463 115.5h2M550 115.5h1M593 115.5h2M627 115.5h1M640 115.5h2M380 116.5h2M399 116.5h3M461 116.5h2M465 116.5h1M549 116.5h1M595 116.5h2M627 116.5h1M642 116.5h1M378 117.5h2M402 117.5h2M459 117.5h2M465 117.5h1M549 117.5h1M597 117.5h2M626 117.5h1M643 117.5h1M377 118.5h1M404 118.5h1M457 118.5h2M466 118.5h1M599 118.5h2M625 118.5h1M644 118.5h1M375 119.5h2M404 119.5h1M455 119.5h2M467 119.5h1M601 119.5h2M624 119.5h1M645 119.5h1M373 120.5h2M405 120.5h1M453 120.5h2M468 120.5h1M603 120.5h2M623 120.5h1M646 120.5h1M372 121.5h1M406 121.5h1M451 121.5h2M468 121.5h1M547 121.5h1M605 121.5h2M623 121.5h1M647 121.5h1M371 122.5h1M406 122.5h1M449 122.5h2M469 122.5h1M547 122.5h1M607 122.5h1M622 122.5h1M648 122.5h1M311 123.5h1M370 123.5h1M407 123.5h1M448 123.5h1M470 123.5h1M546 123.5h1M608 123.5h2M621 123.5h1M188 124.5h1M310 124.5h1M312 124.5h2M369 124.5h1M408 124.5h1M446 124.5h2M471 124.5h1M546 124.5h1M610 124.5h2M620 124.5h1M189 125.5h1M309 125.5h1M314 125.5h2M368 125.5h1M408 125.5h1M445 125.5h1M471 125.5h1M545 125.5h1M612 125.5h1M619 125.5h1M190 126.5h2M234 126.5h1M308 126.5h1M316 126.5h2M367 126.5h1M409 126.5h1M444 126.5h1M472 126.5h1M545 126.5h1M613 126.5h2M619 126.5h1M192 127.5h1M233 127.5h1M235 127.5h2M264 127.5h2M308 127.5h1M318 127.5h2M366 127.5h1M410 127.5h1M442 127.5h2M473 127.5h1M544 127.5h1M615 127.5h2M618 127.5h1M193 128.5h1M233 128.5h1M237 128.5h2M262 128.5h2M266 128.5h1M307 128.5h1M320 128.5h2M339 128.5h4M364 128.5h2M410 128.5h1M441 128.5h1M474 128.5h1M544 128.5h1M617 128.5h1M194 129.5h1M232 129.5h1M239 129.5h2M260 129.5h2M266 129.5h1M306 129.5h1M322 129.5h2M334 129.5h5M343 129.5h2M363 129.5h1M411 129.5h1M440 129.5h1M474 129.5h1M543 129.5h1M195 130.5h2M231 130.5h1M241 130.5h2M258 130.5h2M267 130.5h1M305 130.5h1M324 130.5h2M329 130.5h5M345 130.5h2M362 130.5h1M412 130.5h1M438 130.5h2M475 130.5h1M543 130.5h1M197 131.5h1M230 131.5h1M243 131.5h2M255 131.5h3M267 131.5h1M304 131.5h1M326 131.5h3M347 131.5h3M361 131.5h1M413 131.5h1M437 131.5h1M476 131.5h1M542 131.5h1M198 132.5h1M230 132.5h1M245 132.5h2M253 132.5h2M268 132.5h1M303 132.5h1M350 132.5h2M360 132.5h1M413 132.5h1M436 132.5h1M477 132.5h1M542 132.5h1M199 133.5h1M229 133.5h1M247 133.5h2M251 133.5h2M269 133.5h1M303 133.5h1M352 133.5h2M359 133.5h1M414 133.5h1M434 133.5h2M477 133.5h1M541 133.5h1M200 134.5h2M228 134.5h1M249 134.5h2M269 134.5h1M302 134.5h1M354 134.5h2M358 134.5h1M415 134.5h1M432 134.5h2M478 134.5h1M541 134.5h1M202 135.5h1M228 135.5h1M270 135.5h1M301 135.5h1M356 135.5h2M415 135.5h1M429 135.5h3M479 135.5h1M540 135.5h1M203 136.5h1M227 136.5h1M270 136.5h1M300 136.5h1M416 136.5h1M426 136.5h3M480 136.5h2M538 136.5h2M204 137.5h2M226 137.5h1M271 137.5h1M299 137.5h1M417 137.5h1M423 137.5h3M482 137.5h1M537 137.5h1M206 138.5h1M225 138.5h1M272 138.5h1M298 138.5h1M417 138.5h1M420 138.5h3M483 138.5h1M536 138.5h1M207 139.5h2M225 139.5h1M272 139.5h1M298 139.5h1M418 139.5h2M484 139.5h2M534 139.5h2M209 140.5h1M224 140.5h1M273 140.5h1M297 140.5h1M486 140.5h1M509 140.5h3M533 140.5h1M210 141.5h2M223 141.5h1M273 141.5h1M296 141.5h1M487 141.5h1M507 141.5h2M512 141.5h2M532 141.5h1M212 142.5h1M223 142.5h1M274 142.5h1M295 142.5h1M488 142.5h2M505 142.5h2M514 142.5h3M530 142.5h2M213 143.5h1M222 143.5h1M275 143.5h1M293 143.5h2M490 143.5h1M503 143.5h2M517 143.5h2M529 143.5h1M214 144.5h2M221 144.5h1M275 144.5h1M292 144.5h1M491 144.5h1M501 144.5h2M519 144.5h3M528 144.5h1M216 145.5h1M220 145.5h1M276 145.5h1M290 145.5h2M492 145.5h2M499 145.5h2M522 145.5h2M526 145.5h2M217 146.5h2M220 146.5h1M276 146.5h1M289 146.5h1M494 146.5h1M497 146.5h2M524 146.5h2M219 147.5h1M277 147.5h1M287 147.5h2M495 147.5h2M278 148.5h1M286 148.5h1M278 149.5h1M284 149.5h2M279 150.5h1M283 150.5h1M279 151.5h1M281 151.5h2M280 152.5h1" fill="none" stroke="#8080FF" stroke-width="1"/>
<path d="M548.5 229v19M623.5 270v10M379.5 405v6M485.5 428v3M397.5 311v5M208.5 296v9M248.5 329v10M228.5 268v13M300.5 373v11M643.5 366v20M240.5 250v10M233.5 202v13M547.5 248v19M384.5 377v6M236.5 210v10M633.5 175v11M488.5 436v3M408.5 323v8M353.5 390v6M541.5 359v14M622.5 280v10M640.5 306v20M645.5 406v20M611.5 270v10M389.5 351v5M489.5 439v3M340.5 309v6M306.5 308v11M347.5 353v6M245.5 299v10M227.5 281v13M414.5 375v8M334.5 270v6M608.5 240v10M636.5 226v20M628.5 220v10M232.5 215v13M581.5 147v6M638.5 266v20M214.5 347v9M242.5 270v9M540.5 373v8M210.5 313v9M554.5 118v19M574.5 105v6M546.5 267v18M328.5 230v7M211.5 322v8M627.5 230v10M221.5 360v14M375.5 428v5M421.5 396v5M535.5 413v8M605.5 210v10M393.5 331v5M239.5 240v10M642.5 346v20M226.5 294v14M534.5 421v8M614.5 300v10M350.5 371v6M392.5 336v5M411.5 349v8M610.5 260v10M207.5 288v8M380.5 400v5M602.5 184v6M545.5 285v19M291.5 406v6M555.5 100v18M635.5 206v20M417.5 401v8M337.5 289v7M553.5 137v18M577.5 123v6M220.5 374v13M529.5 461v8M213.5 339v8M378.5 411v6M225.5 308v13M533.5 429v8M647.5 446v20M637.5 246v20M383.5 383v6M632.5 180v10M315.5 247v3M616.5 320v10M299.5 384v11M305.5 319v11M355.5 402v6M456.5 370v3M604.5 200v10M401.5 291v5M224.5 321v13M621.5 290v10M613.5 290v10M410.5 340v9M288.5 388v6M349.5 365v6M298.5 395v11M216.5 364v8M231.5 228v14M336.5 283v6M281.5 346v6M416.5 392v9M544.5 304v18M644.5 386v20M583.5 159v6M480.5 414v3M576.5 117v6M620.5 300v10M304.5 330v11M552.5 155v19M330.5 243v7M310.5 264v11M391.5 341v5M626.5 240v10M420.5 401v5M607.5 230v10M538.5 389v8M639.5 286v20M484.5 425v3M551.5 174v18M407.5 314v9M352.5 383v7M203.5 258v5M303.5 341v10M346.5 346v7M641.5 326v20M532.5 437v8M204.5 263v8M404.5 288v9M625.5 250v10M293.5 418v6M309.5 275v11M219.5 387v7M339.5 302v7M377.5 417v5M215.5 356v8M241.5 260v10M395.5 321v5M287.5 382v6M631.5 190v10M634.5 186v20M573.5 99v6M382.5 389v5M646.5 426v20M429.5 358v4M387.5 361v5M527.5 477v8M238.5 230v10M223.5 334v13M630.5 200v10M206.5 280v8M247.5 319v10M542.5 341v18M385.5 372v5M338.5 296v6M243.5 279v10M318.5 239v3M585.5 171v6M235.5 200v10M244.5 289v10M290.5 400v6M222.5 347v13M619.5 310v10M629.5 210v10M373.5 439v6M419.5 406v5M332.5 256v7M432.5 343v5M537.5 397v8M230.5 242v13M579.5 135v6M572.5 93v6M615.5 310v10M413.5 366v9M209.5 305v8M409.5 331v9M618.5 320v10M543.5 322v19M603.5 190v10M549.5 211v18M550.5 192v19M205.5 271v9M376.5 422v6M302.5 351v11M308.5 286v11M246.5 309v10M490.5 442v3M229.5 255v13M612.5 280v10M348.5 359v6M648.5 466v10M341.5 315v7M624.5 260v10M423.5 387v5M582.5 153v6M609.5 250v10M575.5 111v6M526.5 485v8M406.5 305v9M289.5 394v6M415.5 383v9M307.5 297v11M335.5 276v7M399.5 301v5M606.5 220v10M212.5 330v9M412.5 357v9M297.5 406v11M403.5 283v5M296.5 417v11M536.5 405v8M556.5 90v10M531.5 445v8M539.5 381v8M234.5 195v7M217.5 372v9M584.5 165v6M301.5 362v11M530.5 453v8M427.5 367v5M331.5 250v6M283.5 358v6M237.5 220v10M402.5 286v5M324.5 224v3M405.5 297v8M333.5 263v7M285.5 370v6M424.5 382v5M327.5 224v6M322.5 229v3M311.5 257v7M356.5 408v6M433.5 340v3M425.5 377v5M528.5 469v8M280.5 342v4M329.5 237v6M400.5 296v5M351.5 377v6M218.5 381v8M381.5 394v6M431.5 348v5M286.5 376v6M398.5 306v5M344.5 334v6M571.5 90v3M453.5 363v3M460.5 379v3M295.5 428v6M374.5 433v6M580.5 141v6M396.5 316v5M491.5 445v3M342.5 322v6M317.5 242v3M345.5 340v6M390.5 346v5M249.5 339v5M486.5 431v3M354.5 396v6M525.5 493v5M292.5 412v6M430.5 353v5M388.5 356v5M282.5 352v6M481.5 417v3M294.5 424v6M284.5 364v6M586.5 177v6M428.5 362v5M386.5 366v6M372.5 445v3M357.5 414v5M578.5 129v6M493.5 450v3M320.5 234v3M426.5 372v5M617.5 330v5M343.5 328v6M326.5 220v4M483.5 422v3M313.5 252v3M394.5 326v5M418.5 409v5M422.5 392v4M587.5 183v3M494.5 453v3M557 90.5h14M595 184.5h7M588 185.5h7M325 222.5h1M325 223.5h1M323 227.5h1M323 228.5h1M321 232.5h1M321 233.5h1M319 237.5h1M319 238.5h1M316 245.5h1M316 246.5h1M314 250.5h1M314 251.5h1M312 255.5h1M312 256.5h1M202 259.5h1M201 260.5h1M201 261.5h1M200 262.5h1M199 263.5h1M198 264.5h1M197 265.5h1M197 266.5h1M196 267.5h1M195 268.5h1M194 269.5h1M194 270.5h1M193 271.5h1M192 272.5h1M191 273.5h1M190 274.5h1M190 275.5h1M189 276.5h1M188 277.5h1M264 339.5h4M260 340.5h4M268 340.5h5M256 341.5h4M273 341.5h5M434 341.5h1M252 342.5h4M278 342.5h2M435 342.5h1M250 343.5h2M436 343.5h1M437 344.5h1M438 345.5h1M439 346.5h1M440 347.5h2M442 348.5h1M443 349.5h1M444 350.5h1M445 351.5h1M446 352.5h1M447 353.5h1M448 354.5h1M449 355.5h1M449 356.5h1M450 357.5h1M450 358.5h1M451 359.5h1M451 360.5h1M452 361.5h1M452 362.5h1M454 366.5h1M454 367.5h1M455 368.5h1M455 369.5h1M457 373.5h1M457 374.5h1M458 375.5h1M458 376.5h1M459 377.5h1M459 378.5h1M461 382.5h1M461 383.5h1M462 384.5h1M462 385.5h1M463 386.5h1M463 387.5h1M464 388.5h1M464 389.5h1M465 390.5h1M465 391.5h1M466 392.5h1M467 393.5h1M467 394.5h1M468 395.5h1M469 396.5h1M469 397.5h1M470 398.5h1M471 399.5h1M471 400.5h1M472 401.5h1M472 402.5h1M473 403.5h1M474 404.5h1M474 405.5h1M475 406.5h1M476 407.5h1M476 408.5h1M477 409.5h1M478 410.5h1M478 411.5h1M479 412.5h1M479 413.5h1M358 419.5h1M358 420.5h1M482 420.5h1M359 421.5h1M482 421.5h1M359 422.5h1M360 423.5h1M360 424.5h1M361 425.5h1M361 426.5h1M362 427.5h1M362 428.5h1M363 429.5h1M363 430.5h1M364 431.5h1M364 432.5h1M365 433.5h1M365 434.5h1M487 434.5h1M366 435.5h1M487 435.5h1M366 436.5h1M367 437.5h1M367 438.5h1M368 439.5h1M368 440.5h1M369 441.5h1M369 442.5h1M370 443.5h1M370 444.5h1M371 445.5h1M371 446.5h1M492 448.5h1M492 449.5h1M495 456.5h1M495 457.5h1M496 458.5h2M498 459.5h1M499 460.5h2M501 461.5h1M502 462.5h2M504 463.5h1M505 464.5h2M507 465.5h1M508 466.5h2M510 467.5h1M510 468.5h1M511 469.5h1M511 470.5h1M512 471.5h1M512 472.5h1M513 473.5h1M513 474.5h1M514 475.5h1M514 476.5h1M515 477.5h1M515 478.5h1M516 479.5h1M516 480.5h1M517 481.5h1M517 482.5h1M518 483.5h1M518 484.5h1M519 485.5h1M519 486.5h1M520 487.5h1M520 488.5h1M521 489.5h1M521 490.5h1M522 491.5h1M522 492.5h1M523 493.5h1M523 494.5h1M524 495.5h1M524 496.5h1" fill="none" stroke="#00FFFF" stroke-width="1"/>
<path d="M292.5 403v5M537.5 352v4M341.5 294v9M607.5 413v5M629.5 287v6M346.5 264v6M612.5 386v5M330.5 409v10M456.5 138v4M617.5 359v5M355.5 210v6M340.5 303v10M213.5 355v5M520.5 272v6M224.5 359v7M315.5 397v6M288.5 384v4M325.5 449v5M318.5 413v5M329.5 419v11M516.5 248v6M615.5 370v5M533.5 335v5M620.5 341v6M335.5 356v10M217.5 334v5M625.5 311v6M581.5 391v3M204.5 402v5M630.5 281v6M334.5 366v11M606.5 418v6M228.5 387v7M587.5 405v3M519.5 266v6M242.5 408v3M307.5 388v3M529.5 319v4M285.5 369v5M333.5 377v11M250.5 382v4M349.5 246v6M594.5 422v3M354.5 216v6M339.5 313v11M602.5 440v3M320.5 423v5M291.5 398v5M352.5 228v6M338.5 324v11M221.5 337v7M253.5 369v4M454.5 129v4M619.5 347v6M536.5 348v4M455.5 133v5M457.5 142v4M624.5 317v6M327.5 441v10M259.5 343v5M229.5 394v7M230.5 401v8M605.5 424v5M627.5 299v6M287.5 379v5M522.5 284v6M344.5 276v6M248.5 390v3M515.5 242v6M332.5 388v10M632.5 269v6M451.5 116v4M302.5 401v3M464.5 172v4M613.5 380v6M233.5 423v7M331.5 398v11M525.5 302v5M518.5 260v6M328.5 430v11M313.5 387v5M222.5 344v7M337.5 335v10M471.5 188v3M293.5 408v5M223.5 351v8M512.5 224v6M215.5 345v5M356.5 204v6M460.5 155v4M336.5 345v11M604.5 429v5M622.5 329v6M280.5 346v3M226.5 373v7M524.5 296v6M206.5 391v6M631.5 275v6M290.5 393v5M608.5 407v6M211.5 365v6M351.5 234v6M530.5 323v4M589.5 410v3M286.5 374v5M514.5 236v6M531.5 327v4M214.5 350v5M257.5 352v4M255.5 360v5M239.5 417v3M342.5 288v6M205.5 397v5M463.5 168v4M300.5 406v3M282.5 354v5M283.5 359v5M410.5 134v3M345.5 270v6M540.5 364v4M350.5 240v6M264.5 322v4M225.5 366v7M231.5 409v7M574.5 375v3M452.5 120v5M584.5 398v3M209.5 376v5M314.5 392v5M513.5 230v6M611.5 391v6M461.5 159v5M212.5 360v5M236.5 426v3M281.5 349v5M321.5 428v5M357.5 200v4M203.5 407v3M241.5 411v3M240.5 414v3M326.5 451v6M220.5 330v7M245.5 399v3M618.5 353v6M528.5 315v4M323.5 439v5M623.5 323v6M207.5 386v5M609.5 402v5M319.5 418v5M347.5 258v6M244.5 402v3M297.5 414v3M316.5 403v5M449.5 109v3M219.5 326v4M312.5 382v5M322.5 433v6M527.5 311v4M304.5 396v3M523.5 290v6M247.5 393v3M218.5 329v5M510.5 214v4M577.5 382v3M234.5 430v4M324.5 444v5M405.5 146v3M263.5 326v4M413.5 127v3M227.5 380v7M311.5 379v3M539.5 360v4M628.5 293v6M458.5 146v5M343.5 282v6M317.5 408v5M348.5 252v6M535.5 344v4M216.5 339v6M521.5 278v6M232.5 416v7M261.5 335v4M511.5 218v6M265.5 319v3M289.5 388v5M603.5 434v6M534.5 340v4M459.5 151v4M616.5 364v6M621.5 335v6M532.5 331v4M353.5 222v6M238.5 420v3M254.5 365v4M284.5 364v5M294.5 413v5M258.5 348v4M597.5 429v3M538.5 356v4M450.5 112v4M235.5 429v3M210.5 371v5M252.5 373v5M243.5 405v3M541.5 368v3M256.5 356v4M626.5 305v6M517.5 254v6M295.5 418v3M462.5 164v4M246.5 396v3M208.5 381v5M610.5 397v5M262.5 330v5M249.5 386v4M614.5 375v5M260.5 339v4M592.5 417v3M251.5 378v4M299.5 409v3M526.5 307v4M633.5 266v3M237.5 423v3M408.5 139v3M306.5 391v3M415.5 122v3M453.5 125v4M309.5 383v3M599.5 434v3M433 101.5h2M432 102.5h1M435 102.5h2M431 103.5h1M437 103.5h2M430 104.5h1M439 104.5h2M429 105.5h1M441 105.5h2M428 106.5h1M443 106.5h2M427 107.5h1M445 107.5h2M426 108.5h1M447 108.5h2M425 109.5h1M424 110.5h1M423 111.5h1M422 112.5h1M421 113.5h1M420 114.5h1M419 115.5h1M418 116.5h1M418 117.5h1M417 118.5h1M417 119.5h1M416 120.5h1M416 121.5h1M414 125.5h1M414 126.5h1M412 130.5h1M412 131.5h1M411 132.5h1M411 133.5h1M409 137.5h1M409 138.5h1M407 142.5h1M407 143.5h1M406 144.5h1M406 145.5h1M404 149.5h1M404 150.5h1M403 151.5h1M403 152.5h1M402 153.5h1M402 154.5h1M401 155.5h1M401 156.5h1M400 157.5h1M400 158.5h1M399 159.5h1M399 160.5h1M398 161.5h1M398 162.5h1M397 163.5h1M397 164.5h1M396 165.5h1M396 166.5h1M395 167.5h1M395 168.5h1M394 169.5h1M394 170.5h1M393 171.5h1M393 172.5h1M392 173.5h1M392 174.5h1M391 175.5h1M391 176.5h1M465 176.5h1M390 177.5h1M465 177.5h1M390 178.5h1M466 178.5h1M389 179.5h1M466 179.5h1M389 180.5h1M467 180.5h1M388 181.5h1M467 181.5h1M388 182.5h1M468 182.5h1M387 183.5h1M468 183.5h1M380 184.5h8M469 184.5h1M372 185.5h8M469 185.5h1M371 186.5h1M470 186.5h1M370 187.5h1M470 187.5h1M369 188.5h1M368 189.5h1M367 190.5h1M366 191.5h1M472 191.5h1M365 192.5h1M472 192.5h1M364 193.5h1M473 193.5h1M363 194.5h1M473 194.5h1M362 195.5h1M474 195.5h1M361 196.5h1M474 196.5h1M360 197.5h1M475 197.5h1M359 198.5h1M475 198.5h1M358 199.5h1M476 199.5h1M476 200.5h1M477 201.5h1M477 202.5h1M478 203.5h1M478 204.5h1M479 205.5h1M479 206.5h2M481 207.5h2M483 208.5h2M485 209.5h3M488 210.5h2M490 211.5h2M492 212.5h2M494 213.5h9M503 214.5h7M648 237.5h1M647 238.5h1M647 239.5h1M646 240.5h1M646 241.5h1M645 242.5h1M645 243.5h1M644 244.5h1M644 245.5h1M643 246.5h1M643 247.5h1M642 248.5h1M642 249.5h1M641 250.5h1M641 251.5h1M640 252.5h1M640 253.5h1M639 254.5h1M639 255.5h1M638 256.5h1M638 257.5h1M637 258.5h1M637 259.5h1M636 260.5h1M636 261.5h1M635 262.5h1M635 263.5h1M634 264.5h1M634 265.5h1M266 320.5h1M266 321.5h1M267 322.5h1M267 323.5h1M268 324.5h1M268 325.5h1M269 326.5h1M269 327.5h1M270 328.5h1M271 329.5h1M271 330.5h1M272 331.5h1M272 332.5h1M273 333.5h1M273 334.5h1M274 335.5h1M274 336.5h1M275 337.5h1M276 338.5h1M276 339.5h1M277 340.5h1M277 341.5h1M278 342.5h1M278 343.5h1M279 344.5h1M279 345.5h1M571 369.5h1M570 370.5h2M542 371.5h1M569 371.5h1M572 371.5h1M543 372.5h1M568 372.5h1M572 372.5h1M544 373.5h1M567 373.5h1M573 373.5h1M545 374.5h1M566 374.5h1M573 374.5h1M546 375.5h1M565 375.5h1M547 376.5h1M564 376.5h1M548 377.5h2M563 377.5h1M550 378.5h1M562 378.5h1M575 378.5h1M551 379.5h1M561 379.5h1M575 379.5h1M552 380.5h1M560 380.5h1M576 380.5h1M310 381.5h1M553 381.5h1M559 381.5h1M576 381.5h1M310 382.5h1M554 382.5h1M558 382.5h1M555 383.5h1M557 383.5h1M556 384.5h1M578 385.5h1M308 386.5h1M578 386.5h1M308 387.5h1M579 387.5h1M579 388.5h1M580 389.5h1M580 390.5h1M305 394.5h1M582 394.5h1M305 395.5h1M582 395.5h1M583 396.5h1M583 397.5h1M303 399.5h1M303 400.5h1M585 401.5h1M585 402.5h1M586 403.5h1M301 404.5h1M586 404.5h1M301 405.5h1M588 408.5h1M202 409.5h1M588 409.5h1M200 410.5h2M198 411.5h2M196 412.5h2M298 412.5h1M194 413.5h2M298 413.5h1M590 413.5h1M192 414.5h2M590 414.5h1M190 415.5h2M591 415.5h1M188 416.5h2M591 416.5h1M296 417.5h1M296 418.5h1M593 420.5h1M593 421.5h1M595 425.5h1M595 426.5h1M596 427.5h1M596 428.5h1M598 432.5h1M598 433.5h1M600 437.5h1M600 438.5h1M601 439.5h1M601 440.5h1" fill="none" stroke="#FF0080" stroke-width="1"/>
<path d="M626.5 182v4M525.5 374v6M540.5 254v8M484.5 356v5M512.5 427v4M360.5 311v4M585.5 256v4M193.5 281v3M569.5 312v3M530.5 334v8M620.5 205v4M217.5 355v3M226.5 332v4M529.5 342v8M562.5 291v3M480.5 336v5M572.5 313v4M517.5 407v4M535.5 294v8M576.5 295v5M539.5 262v8M359.5 315v4M534.5 302v8M568.5 309v3M625.5 186v4M210.5 334v3M234.5 301v3M490.5 386v5M203.5 313v3M584.5 260v5M581.5 274v4M196.5 291v3M630.5 167v4M225.5 336v4M363.5 299v4M206.5 322v3M486.5 366v5M214.5 346v3M621.5 201v4M230.5 316v4M520.5 396v4M207.5 325v3M368.5 279v4M557.5 276v3M580.5 278v4M200.5 303v4M483.5 351v5M221.5 352v4M511.5 431v4M493.5 401v5M524.5 380v4M528.5 350v8M229.5 320v4M575.5 300v4M515.5 415v4M533.5 310v8M371.5 267v4M220.5 356v4M538.5 270v8M624.5 190v4M523.5 384v4M213.5 343v3M362.5 303v4M571.5 317v3M564.5 297v3M367.5 283v4M189.5 268v3M199.5 300v3M519.5 400v4M358.5 319v4M224.5 340v4M202.5 310v3M632.5 159v4M532.5 318v8M619.5 209v4M479.5 333v3M537.5 278v8M357.5 323v3M489.5 381v5M623.5 194v4M492.5 396v5M233.5 304v4M570.5 315v3M579.5 282v5M514.5 419v4M563.5 294v3M628.5 175v3M216.5 352v3M366.5 287v4M209.5 331v3M627.5 178v4M192.5 278v3M567.5 306v3M485.5 361v5M560.5 285v3M482.5 346v5M583.5 265v4M195.5 287v4M518.5 404v3M227.5 328v4M495.5 411v3M527.5 358v8M574.5 304v5M232.5 308v4M370.5 271v4M582.5 269v5M205.5 319v3M223.5 344v4M361.5 307v4M622.5 198v3M587.5 249v3M198.5 297v3M488.5 376v5M228.5 324v4M566.5 303v3M369.5 275v4M578.5 287v4M559.5 282v3M481.5 341v5M536.5 286v8M513.5 423v4M222.5 348v4M491.5 391v5M526.5 366v8M618.5 213v4M494.5 406v5M212.5 340v3M541.5 250v4M631.5 163v4M531.5 326v8M573.5 309v4M365.5 291v4M521.5 392v4M231.5 312v4M487.5 371v5M215.5 349v3M565.5 300v3M208.5 328v3M586.5 252v4M558.5 279v3M577.5 291v4M201.5 307v3M190.5 271v4M522.5 388v4M219.5 360v3M516.5 411v4M364.5 295v4M629.5 171v4M218.5 358v3M372.5 264v3M211.5 337v3M561.5 288v3M204.5 316v3M197.5 294v3M191.5 275v3M194.5 284v3M633 157.5h1M633 158.5h2M634 159.5h1M635 160.5h1M635 161.5h1M636 162.5h1M636 163.5h1M637 164.5h1M637 165.5h1M638 166.5h1M639 167.5h1M639 168.5h1M640 169.5h1M640 170.5h1M641 171.5h1M641 172.5h1M642 173.5h1M642 174.5h1M643 175.5h1M644 176.5h1M644 177.5h1M645 178.5h1M645 179.5h1M646 180.5h1M646 181.5h1M647 182.5h1M647 183.5h1M648 184.5h1M617 217.5h1M616 218.5h2M613 219.5h3M610 220.5h3M607 221.5h3M604 222.5h3M602 223.5h2M601 224.5h1M601 225.5h1M600 226.5h1M600 227.5h1M599 228.5h1M599 229.5h1M598 230.5h1M597 231.5h1M597 232.5h1M596 233.5h1M596 234.5h1M595 235.5h1M594 236.5h1M594 237.5h1M593 238.5h1M593 239.5h1M592 240.5h1M592 241.5h1M591 242.5h1M590 243.5h1M590 244.5h1M589 245.5h1M589 246.5h1M588 247.5h1M588 248.5h1M542 251.5h1M542 252.5h1M543 253.5h1M543 254.5h1M544 255.5h1M545 256.5h1M545 257.5h1M546 258.5h1M547 259.5h1M547 260.5h1M548 261.5h1M548 262.5h1M549 263.5h1M373 264.5h7M550 264.5h1M380 265.5h9M550 265.5h1M188 266.5h1M389 266.5h2M551 266.5h1M188 267.5h1M391 267.5h2M552 267.5h1M393 268.5h2M552 268.5h1M395 269.5h2M553 269.5h1M397 270.5h2M553 270.5h1M399 271.5h2M554 271.5h1M401 272.5h2M555 272.5h1M403 273.5h2M555 273.5h1M405 274.5h4M556 274.5h1M409 275.5h4M556 275.5h1M413 276.5h4M417 277.5h3M420 278.5h2M422 279.5h2M424 280.5h2M426 281.5h2M428 282.5h2M430 283.5h2M432 284.5h2M434 285.5h1M434 286.5h1M435 287.5h1M435 288.5h1M436 289.5h1M437 290.5h1M437 291.5h1M438 292.5h1M438 293.5h1M439 294.5h1M440 295.5h1M440 296.5h1M441 297.5h1M441 298.5h1M442 299.5h1M442 300.5h1M443 301.5h1M235 302.5h1M444 302.5h1M236 303.5h1M444 303.5h1M237 304.5h2M445 304.5h1M463 304.5h2M239 305.5h1M445 305.5h1M461 305.5h2M465 305.5h1M240 306.5h1M446 306.5h1M459 306.5h2M465 306.5h1M241 307.5h1M447 307.5h1M457 307.5h2M466 307.5h1M242 308.5h1M447 308.5h1M455 308.5h2M466 308.5h1M243 309.5h1M448 309.5h1M453 309.5h2M467 309.5h1M244 310.5h1M448 310.5h1M451 310.5h2M467 310.5h1M245 311.5h2M449 311.5h2M468 311.5h1M247 312.5h1M295 312.5h2M468 312.5h1M248 313.5h1M294 313.5h1M297 313.5h2M469 313.5h1M249 314.5h1M294 314.5h1M299 314.5h2M469 314.5h1M250 315.5h1M293 315.5h1M301 315.5h3M470 315.5h1M251 316.5h1M292 316.5h1M304 316.5h2M470 316.5h1M252 317.5h1M291 317.5h1M306 317.5h2M471 317.5h1M252 318.5h1M291 318.5h1M308 318.5h2M471 318.5h1M253 319.5h1M290 319.5h1M310 319.5h2M472 319.5h1M254 320.5h1M289 320.5h1M312 320.5h1M472 320.5h1M255 321.5h1M289 321.5h1M312 321.5h1M473 321.5h1M256 322.5h1M288 322.5h1M313 322.5h1M473 322.5h1M257 323.5h1M287 323.5h1M314 323.5h1M341 323.5h5M474 323.5h1M257 324.5h1M286 324.5h1M314 324.5h1M340 324.5h1M346 324.5h8M474 324.5h1M258 325.5h1M286 325.5h1M315 325.5h1M339 325.5h1M354 325.5h3M475 325.5h1M259 326.5h1M285 326.5h1M316 326.5h1M339 326.5h1M475 326.5h1M260 327.5h1M284 327.5h1M316 327.5h1M338 327.5h1M476 327.5h1M261 328.5h1M284 328.5h1M317 328.5h1M337 328.5h1M476 328.5h1M262 329.5h1M283 329.5h1M318 329.5h1M336 329.5h1M477 329.5h1M262 330.5h1M282 330.5h1M318 330.5h1M335 330.5h1M477 330.5h1M263 331.5h1M281 331.5h1M319 331.5h1M335 331.5h1M478 331.5h1M264 332.5h1M281 332.5h1M319 332.5h1M334 332.5h1M478 332.5h1M265 333.5h16M320 333.5h1M333 333.5h1M321 334.5h1M332 334.5h1M321 335.5h1M332 335.5h1M322 336.5h1M331 336.5h1M323 337.5h1M330 337.5h1M323 338.5h1M329 338.5h1M324 339.5h1M328 339.5h1M325 340.5h1M328 340.5h1M325 341.5h1M327 341.5h1M326 342.5h1M496 414.5h1M496 415.5h1M497 416.5h1M498 417.5h1M498 418.5h1M499 419.5h1M500 420.5h1M500 421.5h1M501 422.5h1M502 423.5h1M502 424.5h1M503 425.5h1M503 426.5h1M504 427.5h1M505 428.5h1M505 429.5h1M506 430.5h1M507 431.5h1M507 432.5h1M508 433.5h1M509 434.5h1M509 435.5h2M510 436.5h1" fill="none" stroke="#00FF00" stroke-width="1"/>
<path d="M581.5 269v4M536.5 277v7M511.5 431v6M466.5 293v3M629.5 178v3M540.5 248v7M526.5 349v7M223.5 323v4M512.5 426v5M530.5 320v7M569.5 305v3M215.5 327v3M364.5 281v4M516.5 405v5M531.5 313v7M480.5 335v6M535.5 284v7M520.5 383v6M621.5 199v3M477.5 325v3M539.5 255v7M586.5 249v4M200.5 289v3M525.5 356v6M211.5 317v3M222.5 327v3M360.5 295v4M493.5 407v5M585.5 253v4M217.5 332v3M484.5 357v6M562.5 286v3M486.5 368v6M230.5 300v3M207.5 307v3M576.5 289v4M359.5 299v3M568.5 302v3M190.5 263v3M521.5 378v5M473.5 313v3M490.5 390v6M483.5 352v5M584.5 257v4M196.5 279v3M476.5 322v3M628.5 181v3M363.5 285v3M193.5 271v3M229.5 303v4M226.5 313v4M572.5 305v4M367.5 270v4M469.5 302v3M534.5 291v7M580.5 273v4M538.5 262v8M221.5 330v3M225.5 317v3M571.5 309v3M528.5 334v8M529.5 327v7M533.5 298v8M515.5 410v5M371.5 256v4M368.5 267v3M519.5 389v5M489.5 385v5M557.5 273v3M523.5 367v6M213.5 322v3M492.5 401v6M203.5 297v3M468.5 299v3M524.5 362v5M532.5 306v7M479.5 331v4M537.5 270v7M485.5 363v5M560.5 281v3M583.5 261v4M465.5 290v3M575.5 293v4M619.5 204v3M220.5 333v4M358.5 302v4M475.5 319v3M233.5 290v3M224.5 320v3M510.5 437v3M579.5 277v4M624.5 191v3M362.5 288v4M482.5 346v6M514.5 415v6M563.5 289v3M518.5 394v5M198.5 284v3M587.5 246v3M495.5 418v3M471.5 308v3M488.5 379v6M366.5 274v3M232.5 293v4M578.5 281v4M205.5 302v3M494.5 412v6M195.5 276v3M228.5 307v3M574.5 297v4M209.5 312v3M481.5 341v5M513.5 421v5M582.5 265v4M361.5 292v3M227.5 310v3M631.5 173v3M478.5 328v3M573.5 301v4M527.5 342v7M566.5 297v3M559.5 278v3M370.5 260v3M626.5 186v3M491.5 396v5M467.5 296v3M541.5 244v4M487.5 374v5M365.5 277v4M517.5 399v6M191.5 266v3M577.5 285v4M369.5 263v4M522.5 373v5M474.5 316v3M470.5 305v3M231.5 297v3M565.5 294v3M201.5 292v3M622.5 196v3M633 169.5h1M633 170.5h2M632 171.5h1M635 171.5h1M632 172.5h1M636 172.5h1M637 173.5h1M638 174.5h1M639 175.5h1M630 176.5h1M640 176.5h1M630 177.5h1M641 177.5h1M642 178.5h1M643 179.5h1M644 180.5h1M645 181.5h1M646 182.5h1M647 183.5h1M627 184.5h1M648 184.5h1M627 185.5h1M625 189.5h1M625 190.5h1M623 194.5h1M623 195.5h1M620 202.5h1M620 203.5h1M618 207.5h1M618 208.5h1M617 209.5h1M617 210.5h1M616 211.5h1M614 212.5h2M613 213.5h1M612 214.5h1M611 215.5h1M609 216.5h2M608 217.5h1M607 218.5h1M606 219.5h1M604 220.5h2M603 221.5h1M602 222.5h1M601 223.5h1M601 224.5h1M600 225.5h1M599 226.5h1M599 227.5h1M598 228.5h1M598 229.5h1M597 230.5h1M596 231.5h1M596 232.5h1M595 233.5h1M594 234.5h1M594 235.5h1M593 236.5h1M593 237.5h1M592 238.5h1M591 239.5h1M591 240.5h1M590 241.5h1M589 242.5h1M589 243.5h1M588 244.5h1M542 245.5h1M588 245.5h1M542 246.5h1M543 247.5h1M543 248.5h1M544 249.5h1M544 250.5h1M545 251.5h1M545 252.5h1M546 253.5h1M372 254.5h8M547 254.5h1M372 255.5h1M380 255.5h8M547 255.5h1M388 256.5h2M548 256.5h1M390 257.5h2M548 257.5h1M392 258.5h2M549 258.5h1M188 259.5h1M394 259.5h2M549 259.5h1M188 260.5h1M396 260.5h1M417 260.5h2M550 260.5h1M189 261.5h1M397 261.5h2M413 261.5h4M419 261.5h1M550 261.5h1M189 262.5h1M399 262.5h2M409 262.5h4M419 262.5h1M551 262.5h1M401 263.5h2M405 263.5h4M420 263.5h1M552 263.5h1M403 264.5h2M421 264.5h1M552 264.5h1M422 265.5h1M553 265.5h1M422 266.5h1M553 266.5h1M423 267.5h1M554 267.5h1M424 268.5h1M554 268.5h1M192 269.5h1M425 269.5h1M555 269.5h1M192 270.5h1M425 270.5h1M555 270.5h1M426 271.5h1M556 271.5h1M427 272.5h1M556 272.5h1M428 273.5h1M194 274.5h1M428 274.5h1M194 275.5h1M429 275.5h1M430 276.5h1M558 276.5h1M431 277.5h1M558 277.5h1M431 278.5h1M432 279.5h1M433 280.5h1M434 281.5h1M197 282.5h1M435 282.5h1M197 283.5h1M436 283.5h1M437 284.5h1M561 284.5h1M438 285.5h1M561 285.5h1M439 286.5h1M199 287.5h1M440 287.5h1M199 288.5h1M234 288.5h1M441 288.5h1M464 288.5h1M234 289.5h3M442 289.5h1M462 289.5h3M237 290.5h1M443 290.5h1M460 290.5h2M238 291.5h2M444 291.5h1M458 291.5h2M240 292.5h1M445 292.5h1M456 292.5h2M564 292.5h1M241 293.5h2M446 293.5h1M454 293.5h2M564 293.5h1M243 294.5h1M447 294.5h1M452 294.5h2M202 295.5h1M244 295.5h2M295 295.5h1M448 295.5h1M450 295.5h2M202 296.5h1M246 296.5h1M294 296.5h1M296 296.5h1M449 296.5h1M247 297.5h2M293 297.5h1M297 297.5h1M249 298.5h1M293 298.5h1M298 298.5h1M250 299.5h1M292 299.5h1M299 299.5h1M204 300.5h1M250 300.5h1M291 300.5h1M300 300.5h1M567 300.5h1M204 301.5h1M251 301.5h1M290 301.5h1M301 301.5h1M567 301.5h1M252 302.5h1M290 302.5h1M302 302.5h2M253 303.5h1M289 303.5h1M304 303.5h1M253 304.5h1M288 304.5h1M305 304.5h1M206 305.5h1M254 305.5h1M287 305.5h1M306 305.5h1M206 306.5h1M255 306.5h1M287 306.5h1M307 306.5h1M341 306.5h9M357 306.5h1M256 307.5h1M286 307.5h1M308 307.5h1M340 307.5h1M350 307.5h8M256 308.5h1M285 308.5h1M309 308.5h1M340 308.5h1M570 308.5h1M257 309.5h1M284 309.5h1M310 309.5h1M339 309.5h1M570 309.5h1M208 310.5h1M258 310.5h1M284 310.5h1M311 310.5h1M339 310.5h1M208 311.5h1M258 311.5h1M283 311.5h1M312 311.5h1M338 311.5h1M472 311.5h1M259 312.5h1M282 312.5h1M312 312.5h1M337 312.5h1M472 312.5h1M260 313.5h1M281 313.5h1M313 313.5h1M337 313.5h1M261 314.5h1M281 314.5h1M314 314.5h1M336 314.5h1M210 315.5h1M261 315.5h1M279 315.5h2M315 315.5h1M336 315.5h1M210 316.5h1M262 316.5h1M276 316.5h3M315 316.5h1M335 316.5h1M263 317.5h1M273 317.5h3M316 317.5h1M334 317.5h1M264 318.5h1M270 318.5h3M317 318.5h1M334 318.5h1M264 319.5h1M267 319.5h3M317 319.5h1M333 319.5h1M212 320.5h1M265 320.5h2M318 320.5h1M333 320.5h1M212 321.5h1M319 321.5h1M332 321.5h1M320 322.5h1M331 322.5h1M320 323.5h1M331 323.5h1M321 324.5h1M330 324.5h1M214 325.5h1M322 325.5h1M330 325.5h1M214 326.5h1M322 326.5h1M329 326.5h1M323 327.5h1M328 327.5h1M324 328.5h1M328 328.5h1M325 329.5h1M327 329.5h1M216 330.5h1M325 330.5h1M327 330.5h1M216 331.5h1M326 331.5h1M218 335.5h1M218 336.5h1M219 337.5h1M219 338.5h1M496 421.5h1M497 422.5h1M497 423.5h1M498 424.5h1M499 425.5h1M500 426.5h1M501 427.5h1M501 428.5h1M502 429.5h1M503 430.5h1M504 431.5h1M504 432.5h1M505 433.5h1M506 434.5h1M507 435.5h1M508 436.5h1M508 437.5h1M509 438.5h1" fill="none" stroke="#804000" stroke-width="1"/>
<polyline points="188.0,246.0 203.3,285.7 218.7,325.8 234.0,278.7 249.3,283.6 264.7,309.6 280.0,291.0 295.3,280.3 310.7,296.7 326.0,316.3 341.3,297.7 356.7,295.7 372.0,244.9 387.3,251.3 402.7,255.7 418.0,246.4 433.3,256.0 448.7,291.9 464.0,288.0 479.3,307.4 494.7,376.0 510.0,404.7 525.3,346.5 540.7,222.2 556.0,266.0 571.3,310.3 586.7,236.8 602.0,205.4 617.3,194.3 632.7,145.3 648.0,163.3" fill="none" stroke="#008000" stroke-width="2" />
<path d="M542.5 296v5M233.5 360v6M600.5 138v3M222.5 430v6M223.5 424v6M596.5 151v4M232.5 366v6M599.5 141v3M555.5 231v5M588.5 178v4M219.5 449v4M547.5 271v5M591.5 168v4M227.5 398v6M546.5 276v5M551.5 251v5M228.5 392v6M550.5 256v5M554.5 236v5M545.5 281v5M549.5 261v5M231.5 372v7M590.5 172v3M226.5 404v7M598.5 144v4M221.5 436v7M544.5 286v5M541.5 301v3M230.5 379v6M553.5 241v5M225.5 411v6M594.5 158v3M234.5 356v4M589.5 175v3M224.5 417v7M229.5 385v7M597.5 148v3M601.5 134v4M220.5 443v6M593.5 161v4M548.5 266v5M556.5 227v4M552.5 246v5M543.5 291v5M592.5 165v3M595.5 155v3M633 98.5h16M631 99.5h2M629 100.5h2M627 101.5h2M625 102.5h2M623 103.5h2M621 104.5h2M619 105.5h2M617 106.5h2M616 107.5h1M616 108.5h1M615 109.5h1M615 110.5h1M614 111.5h1M614 112.5h1M613 113.5h1M612 114.5h1M612 115.5h1M611 116.5h1M611 117.5h1M610 118.5h1M609 119.5h1M609 120.5h1M608 121.5h1M608 122.5h1M607 123.5h1M607 124.5h1M606 125.5h1M605 126.5h1M605 127.5h1M604 128.5h1M604 129.5h1M603 130.5h1M603 131.5h1M602 132.5h1M602 133.5h1M587 182.5h1M587 183.5h1M586 184.5h1M585 185.5h1M584 186.5h1M582 187.5h2M581 188.5h1M580 189.5h1M579 190.5h1M578 191.5h1M577 192.5h1M576 193.5h1M574 194.5h2M573 195.5h1M572 196.5h1M571 197.5h1M571 198.5h1M570 199.5h1M570 200.5h1M569 201.5h1M569 202.5h1M568 203.5h1M568 204.5h1M567 205.5h1M567 206.5h1M566 207.5h1M566 208.5h1M565 209.5h1M565 210.5h1M564 211.5h1M564 212.5h1M563 213.5h1M563 214.5h1M562 215.5h1M562 216.5h1M561 217.5h1M561 218.5h1M560 219.5h1M560 220.5h1M559 221.5h1M559 222.5h1M558 223.5h1M558 224.5h1M557 225.5h1M557 226.5h1M539 303.5h2M534 304.5h5M528 305.5h6M488 306.5h40M380 307.5h108M365 308.5h15M354 309.5h11M346 310.5h8M339 311.5h7M334 312.5h5M329 313.5h5M326 314.5h3M325 315.5h1M324 316.5h1M323 317.5h1M322 318.5h1M321 319.5h1M320 320.5h1M319 321.5h1M318 322.5h1M317 323.5h1M316 324.5h1M315 325.5h1M314 326.5h1M313 327.5h1M312 328.5h1M311 329.5h1M309 330.5h2M308 331.5h1M306 332.5h2M305 333.5h1M304 334.5h1M302 335.5h2M301 336.5h1M299 337.5h2M298 338.5h1M296 339.5h2M293 340.5h3M288 341.5h5M283 342.5h5M278 343.5h5M273 344.5h5M268 345.5h5M249 346.5h19M247 347.5h2M246 348.5h1M244 349.5h2M243 350.5h1M241 351.5h2M240 352.5h1M238 353.5h2M237 354.5h1M235 355.5h2M216 452.5h3M208 453.5h8M203 454.5h5M202 455.5h1M202 456.5h1M201 457.5h1M201 458.5h1M200 459.5h1M199 460.5h1M199 461.5h1M198 462.5h1M198 463.5h1M197 464.5h1M196 465.5h1M196 466.5h1M195 467.5h1M195 468.5h1M194 469.5h1M193 470.5h1M193 471.5h1M192 472.5h1M192 473.5h1M191 474.5h1M190 475.5h1M190 476.5h1M189 477.5h1M189 478.5h1M188 479.5h1" fill="none" stroke="#0000FF" stroke-width="1"/>
<rect x="188" y="479.0" width="2" height="21.0" fill="#0000FF"/>
<rect x="202" y="474.0" width="2" height="26.0" fill="#0000FF"/>
<rect x="218" y="497.5" width="2" height="2.5" fill="#0000FF"/>
<rect x="233" y="403.7" width="2" height="96.3" fill="#0000FF"/>
<rect x="248" y="489.0" width="2" height="11.0" fill="#0000FF"/>
<rect x="279" y="496.5" width="2" height="3.5" fill="#0000FF"/>
<rect x="294" y="497.5" width="2" height="2.5" fill="#0000FF"/>
<rect x="310" y="488.8" width="2" height="11.2" fill="#0000FF"/>
<rect x="325" y="485.0" width="2" height="15.0" fill="#0000FF"/>
<rect x="340" y="498.0" width="2" height="2.0" fill="#0000FF"/>
<rect x="356" y="497.0" width="2" height="3.0" fill="#0000FF"/>
<rect x="386" y="497.0" width="2" height="3.0" fill="#0000FF"/>
<rect x="494" y="499.0" width="2" height="1.0" fill="#0000FF"/>
<rect x="540" y="497.0" width="2" height="3.0" fill="#0000FF"/>
<rect x="555" y="425.0" width="2" height="75.0" fill="#0000FF"/>
<rect x="570" y="468.5" width="2" height="31.5" fill="#0000FF"/>
<rect x="586" y="487.8" width="2" height="12.2" fill="#0000FF"/>
<rect x="601" y="447.2" width="2" height="52.8" fill="#0000FF"/>
<rect x="616" y="474.0" width="2" height="26.0" fill="#0000FF"/>
<rect x="632" y="491.7" width="2" height="8.3" fill="#0000FF"/>
<path d="M188 485.5h1M189 486.5h1M190 487.5h1M191 488.5h2M193 489.5h1M602 489.5h8M194 490.5h1M600 490.5h2M610 490.5h9M195 491.5h1M599 491.5h1M619 491.5h2M196 492.5h1M279 492.5h3M597 492.5h2M621 492.5h2M197 493.5h1M277 493.5h2M282 493.5h4M596 493.5h1M623 493.5h2M198 494.5h1M275 494.5h2M286 494.5h4M594 494.5h2M625 494.5h2M199 495.5h2M273 495.5h2M290 495.5h4M593 495.5h1M627 495.5h2M201 496.5h1M227 496.5h10M271 496.5h2M294 496.5h4M324 496.5h5M431 496.5h5M523 496.5h5M591 496.5h2M629 496.5h2M202 497.5h1M212 497.5h15M237 497.5h5M269 497.5h2M298 497.5h6M319 497.5h5M329 497.5h5M354 497.5h7M426 497.5h5M436 497.5h6M518 497.5h5M528 497.5h6M590 497.5h1M631 497.5h2M203 498.5h9M242 498.5h5M267 498.5h2M304 498.5h5M314 498.5h5M334 498.5h5M346 498.5h8M361 498.5h8M421 498.5h5M442 498.5h5M513 498.5h5M534 498.5h5M588 498.5h2M633 498.5h16M247 499.5h20M309 499.5h5M339 499.5h7M369 499.5h11M411 499.5h10M447 499.5h10M488 499.5h25M539 499.5h49M380 500.5h31M457 500.5h31" fill="none" stroke="#000000" stroke-width="1"/>
<rect x="187" y="500" width="463" height="1" fill="#808080"/>
</g>
<text xml:space="preserve" transform="translate(188.5 519.0) scale(1.000 1.140)" fill="#000" font-size="11" text-anchor="middle" font-weight="normal" >1</text>
<text xml:space="preserve" transform="translate(203.5 519.0) scale(1.000 1.140)" fill="#000" font-size="11" text-anchor="middle" font-weight="normal" >2</text>
<text xml:space="preserve" transform="translate(219.5 519.0) scale(1.000 1.140)" fill="#000" font-size="11" text-anchor="middle" font-weight="normal" >3</text>
<text xml:space="preserve" transform="translate(234.5 519.0) scale(1.000 1.140)" fill="#000" font-size="11" text-anchor="middle" font-weight="normal" >4</text>
<text xml:space="preserve" transform="translate(249.5 519.0) scale(1.000 1.140)" fill="#000" font-size="11" text-anchor="middle" font-weight="normal" >5</text>
<text xml:space="preserve" transform="translate(265.5 519.0) scale(1.000 1.140)" fill="#000" font-size="11" text-anchor="middle" font-weight="normal" >6</text>
<text xml:space="preserve" transform="translate(280.5 519.0) scale(1.000 1.140)" fill="#000" font-size="11" text-anchor="middle" font-weight="normal" >7</text>
<text xml:space="preserve" transform="translate(295.5 519.0) scale(1.000 1.140)" fill="#000" font-size="11" text-anchor="middle" font-weight="normal" >8</text>
<text xml:space="preserve" transform="translate(311.5 519.0) scale(1.000 1.140)" fill="#000" font-size="11" text-anchor="middle" font-weight="normal" >9</text>
<text xml:space="preserve" transform="translate(326.5 519.0) scale(1.080 1.140)" fill="#000" font-size="11" text-anchor="middle" font-weight="normal" >10</text>
<text xml:space="preserve" transform="translate(341.5 519.0) scale(1.080 1.140)" fill="#000" font-size="11" text-anchor="middle" font-weight="normal" >11</text>
<text xml:space="preserve" transform="translate(357.5 519.0) scale(1.080 1.140)" fill="#000" font-size="11" text-anchor="middle" font-weight="normal" >12</text>
<text xml:space="preserve" transform="translate(372.5 519.0) scale(1.080 1.140)" fill="#000" font-size="11" text-anchor="middle" font-weight="normal" >13</text>
<text xml:space="preserve" transform="translate(387.5 519.0) scale(1.080 1.140)" fill="#000" font-size="11" text-anchor="middle" font-weight="normal" >14</text>
<text xml:space="preserve" transform="translate(403.5 519.0) scale(1.080 1.140)" fill="#000" font-size="11" text-anchor="middle" font-weight="normal" >15</text>
<text xml:space="preserve" transform="translate(418.5 519.0) scale(1.080 1.140)" fill="#000" font-size="11" text-anchor="middle" font-weight="normal" >16</text>
<text xml:space="preserve" transform="translate(433.5 519.0) scale(1.080 1.140)" fill="#000" font-size="11" text-anchor="middle" font-weight="normal" >17</text>
<text xml:space="preserve" transform="translate(449.5 519.0) scale(1.080 1.140)" fill="#000" font-size="11" text-anchor="middle" font-weight="normal" >18</text>
<text xml:space="preserve" transform="translate(464.5 519.0) scale(1.080 1.140)" fill="#000" font-size="11" text-anchor="middle" font-weight="normal" >19</text>
<text xml:space="preserve" transform="translate(479.5 519.0) scale(1.080 1.140)" fill="#000" font-size="11" text-anchor="middle" font-weight="normal" >20</text>
<text xml:space="preserve" transform="translate(495.5 519.0) scale(1.080 1.140)" fill="#000" font-size="11" text-anchor="middle" font-weight="normal" >21</text>
<text xml:space="preserve" transform="translate(510.5 519.0) scale(1.080 1.140)" fill="#000" font-size="11" text-anchor="middle" font-weight="normal" >22</text>
<text xml:space="preserve" transform="translate(525.5 519.0) scale(1.080 1.140)" fill="#000" font-size="11" text-anchor="middle" font-weight="normal" >23</text>
<text xml:space="preserve" transform="translate(541.5 519.0) scale(1.080 1.140)" fill="#000" font-size="11" text-anchor="middle" font-weight="normal" >24</text>
<text xml:space="preserve" transform="translate(556.5 519.0) scale(1.080 1.140)" fill="#000" font-size="11" text-anchor="middle" font-weight="normal" >25</text>
<text xml:space="preserve" transform="translate(571.5 519.0) scale(1.080 1.140)" fill="#000" font-size="11" text-anchor="middle" font-weight="normal" >26</text>
<text xml:space="preserve" transform="translate(587.5 519.0) scale(1.080 1.140)" fill="#000" font-size="11" text-anchor="middle" font-weight="normal" >27</text>
<text xml:space="preserve" transform="translate(602.5 519.0) scale(1.080 1.140)" fill="#000" font-size="11" text-anchor="middle" font-weight="normal" >28</text>
<text xml:space="preserve" transform="translate(617.5 519.0) scale(1.080 1.140)" fill="#000" font-size="11" text-anchor="middle" font-weight="normal" >29</text>
<text xml:space="preserve" transform="translate(633.5 519.0) scale(1.080 1.140)" fill="#000" font-size="11" text-anchor="middle" font-weight="normal" >30</text>
<text xml:space="preserve" transform="translate(648.5 519.0) scale(1.080 1.140)" fill="#000" font-size="11" text-anchor="middle" font-weight="normal" >31</text>
<g shape-rendering="crispEdges">
<rect x="240" y="496" width="1" height="12" fill="#000"/>
<rect x="468" y="496" width="1" height="12" fill="#000"/>
</g>
<circle cx="240.5" cy="525.5" r="4.5" fill="#000"/>
<path d="M238.2 522.6 A4 4 0 0 0 238.2 528.4" fill="none" stroke="#fff" stroke-width="0.8"/>
<circle cx="468.5" cy="525.5" r="4.8" fill="#fff" stroke="#000" stroke-width="1.3"/>
<g shape-rendering="crispEdges">
<rect x="40" y="90" width="1" height="411" fill="#808080"/>
<rect x="36" y="90" width="8" height="1" fill="#808080"/>
<rect x="36" y="124" width="4" height="1" fill="#808080"/>
<rect x="36" y="158" width="4" height="1" fill="#808080"/>
<rect x="36" y="192" width="4" height="1" fill="#808080"/>
<rect x="36" y="227" width="4" height="1" fill="#808080"/>
<rect x="36" y="261" width="4" height="1" fill="#808080"/>
<rect x="36" y="295" width="4" height="1" fill="#808080"/>
<rect x="36" y="329" width="4" height="1" fill="#808080"/>
<rect x="36" y="363" width="4" height="1" fill="#808080"/>
<rect x="36" y="398" width="4" height="1" fill="#808080"/>
<rect x="36" y="432" width="4" height="1" fill="#808080"/>
<rect x="36" y="466" width="4" height="1" fill="#808080"/>
<rect x="36" y="500" width="8" height="1" fill="#808080"/>
</g>
<text xml:space="preserve" transform="translate(35.0 95.0) scale(0.972 1.140)" fill="#008000" font-size="11" text-anchor="end" font-weight="normal" >16.0</text>
<text xml:space="preserve" transform="translate(35.0 129.0) scale(0.972 1.140)" fill="#008000" font-size="11" text-anchor="end" font-weight="normal" >14.0</text>
<text xml:space="preserve" transform="translate(35.0 163.0) scale(0.972 1.140)" fill="#008000" font-size="11" text-anchor="end" font-weight="normal" >12.0</text>
<text xml:space="preserve" transform="translate(35.0 197.0) scale(0.972 1.140)" fill="#008000" font-size="11" text-anchor="end" font-weight="normal" >10.0</text>
<text xml:space="preserve" transform="translate(35.0 232.0) scale(0.972 1.140)" fill="#008000" font-size="11" text-anchor="end" font-weight="normal" >8.0</text>
<text xml:space="preserve" transform="translate(35.0 266.0) scale(0.972 1.140)" fill="#008000" font-size="11" text-anchor="end" font-weight="normal" >6.0</text>
<text xml:space="preserve" transform="translate(35.0 300.0) scale(0.972 1.140)" fill="#008000" font-size="11" text-anchor="end" font-weight="normal" >4.0</text>
<text xml:space="preserve" transform="translate(35.0 334.0) scale(0.972 1.140)" fill="#008000" font-size="11" text-anchor="end" font-weight="normal" >2.0</text>
<text xml:space="preserve" transform="translate(35.0 368.0) scale(0.972 1.140)" fill="#008000" font-size="11" text-anchor="end" font-weight="normal" >0.0</text>
<text xml:space="preserve" transform="translate(35.0 403.0) scale(0.972 1.140)" fill="#008000" font-size="11" text-anchor="end" font-weight="normal" >-2.0</text>
<text xml:space="preserve" transform="translate(35.0 437.0) scale(0.972 1.140)" fill="#008000" font-size="11" text-anchor="end" font-weight="normal" >-4.0</text>
<text xml:space="preserve" transform="translate(35.0 471.0) scale(0.972 1.140)" fill="#008000" font-size="11" text-anchor="end" font-weight="normal" >-6.0</text>
<text xml:space="preserve" transform="translate(35.0 505.0) scale(0.972 1.140)" fill="#008000" font-size="11" text-anchor="end" font-weight="normal" >-8.0</text>
<text xml:space="preserve" transform="translate(19.8 79.0) scale(1.000 1.140)" fill="#008000" font-size="11" text-anchor="start" font-weight="normal"  textLength="10.8" lengthAdjust="spacingAndGlyphs">°C</text>
<g shape-rendering="crispEdges">
<rect x="77" y="90" width="1" height="411" fill="#808080"/>
<rect x="73" y="90" width="8" height="1" fill="#808080"/>
<rect x="73" y="117" width="4" height="1" fill="#808080"/>
<rect x="73" y="145" width="4" height="1" fill="#808080"/>
<rect x="73" y="172" width="4" height="1" fill="#808080"/>
<rect x="73" y="199" width="4" height="1" fill="#808080"/>
<rect x="73" y="227" width="4" height="1" fill="#808080"/>
<rect x="73" y="254" width="4" height="1" fill="#808080"/>
<rect x="73" y="281" width="4" height="1" fill="#808080"/>
<rect x="73" y="309" width="4" height="1" fill="#808080"/>
<rect x="73" y="336" width="4" height="1" fill="#808080"/>
<rect x="73" y="363" width="4" height="1" fill="#808080"/>
<rect x="73" y="391" width="4" height="1" fill="#808080"/>
<rect x="73" y="418" width="4" height="1" fill="#808080"/>
<rect x="73" y="445" width="4" height="1" fill="#808080"/>
<rect x="73" y="473" width="4" height="1" fill="#808080"/>
<rect x="73" y="500" width="8" height="1" fill="#808080"/>
</g>
<text xml:space="preserve" transform="translate(71.5 95.0) scale(0.972 1.140)" fill="#00FFFF" font-size="11" text-anchor="end" font-weight="normal" >15</text>
<text xml:space="preserve" transform="translate(71.5 122.0) scale(0.972 1.140)" fill="#00FFFF" font-size="11" text-anchor="end" font-weight="normal" >14</text>
<text xml:space="preserve" transform="translate(71.5 150.0) scale(0.972 1.140)" fill="#00FFFF" font-size="11" text-anchor="end" font-weight="normal" >13</text>
<text xml:space="preserve" transform="translate(71.5 177.0) scale(0.972 1.140)" fill="#00FFFF" font-size="11" text-anchor="end" font-weight="normal" >12</text>
<text xml:space="preserve" transform="translate(71.5 204.0) scale(0.972 1.140)" fill="#00FFFF" font-size="11" text-anchor="end" font-weight="normal" >11</text>
<text xml:space="preserve" transform="translate(71.5 232.0) scale(0.972 1.140)" fill="#00FFFF" font-size="11" text-anchor="end" font-weight="normal" >10</text>
<text xml:space="preserve" transform="translate(71.5 259.0) scale(0.972 1.140)" fill="#00FFFF" font-size="11" text-anchor="end" font-weight="normal" >9</text>
<text xml:space="preserve" transform="translate(71.5 286.0) scale(0.972 1.140)" fill="#00FFFF" font-size="11" text-anchor="end" font-weight="normal" >8</text>
<text xml:space="preserve" transform="translate(71.5 314.0) scale(0.972 1.140)" fill="#00FFFF" font-size="11" text-anchor="end" font-weight="normal" >7</text>
<text xml:space="preserve" transform="translate(71.5 341.0) scale(0.972 1.140)" fill="#00FFFF" font-size="11" text-anchor="end" font-weight="normal" >6</text>
<text xml:space="preserve" transform="translate(71.5 368.0) scale(0.972 1.140)" fill="#00FFFF" font-size="11" text-anchor="end" font-weight="normal" >5</text>
<text xml:space="preserve" transform="translate(71.5 396.0) scale(0.972 1.140)" fill="#00FFFF" font-size="11" text-anchor="end" font-weight="normal" >4</text>
<text xml:space="preserve" transform="translate(71.5 423.0) scale(0.972 1.140)" fill="#00FFFF" font-size="11" text-anchor="end" font-weight="normal" >3</text>
<text xml:space="preserve" transform="translate(71.5 450.0) scale(0.972 1.140)" fill="#00FFFF" font-size="11" text-anchor="end" font-weight="normal" >2</text>
<text xml:space="preserve" transform="translate(71.5 478.0) scale(0.972 1.140)" fill="#00FFFF" font-size="11" text-anchor="end" font-weight="normal" >1</text>
<text xml:space="preserve" transform="translate(71.5 505.0) scale(0.972 1.140)" fill="#00FFFF" font-size="11" text-anchor="end" font-weight="normal" >0</text>
<text xml:space="preserve" transform="translate(62.4 79.0) scale(0.972 1.140)" fill="#00FFFF" font-size="11" text-anchor="start" font-weight="normal" >lf</text>
<g shape-rendering="crispEdges">
<rect x="114" y="90" width="1" height="411" fill="#808080"/>
<rect x="110" y="90" width="8" height="1" fill="#808080"/>
<rect x="110" y="124" width="4" height="1" fill="#808080"/>
<rect x="110" y="158" width="4" height="1" fill="#808080"/>
<rect x="110" y="192" width="4" height="1" fill="#808080"/>
<rect x="110" y="227" width="4" height="1" fill="#808080"/>
<rect x="110" y="261" width="4" height="1" fill="#808080"/>
<rect x="110" y="295" width="4" height="1" fill="#808080"/>
<rect x="110" y="329" width="4" height="1" fill="#808080"/>
<rect x="110" y="363" width="4" height="1" fill="#808080"/>
<rect x="110" y="398" width="4" height="1" fill="#808080"/>
<rect x="110" y="432" width="4" height="1" fill="#808080"/>
<rect x="110" y="466" width="4" height="1" fill="#808080"/>
<rect x="110" y="500" width="8" height="1" fill="#808080"/>
</g>
<text xml:space="preserve" transform="translate(108.3 95.0) scale(0.972 1.140)" fill="#0000FF" font-size="11" text-anchor="end" font-weight="normal" >60.0</text>
<text xml:space="preserve" transform="translate(108.3 129.0) scale(0.972 1.140)" fill="#0000FF" font-size="11" text-anchor="end" font-weight="normal" >55.0</text>
<text xml:space="preserve" transform="translate(108.3 163.0) scale(0.972 1.140)" fill="#0000FF" font-size="11" text-anchor="end" font-weight="normal" >50.0</text>
<text xml:space="preserve" transform="translate(108.3 197.0) scale(0.972 1.140)" fill="#0000FF" font-size="11" text-anchor="end" font-weight="normal" >45.0</text>
<text xml:space="preserve" transform="translate(108.3 232.0) scale(0.972 1.140)" fill="#0000FF" font-size="11" text-anchor="end" font-weight="normal" >40.0</text>
<text xml:space="preserve" transform="translate(108.3 266.0) scale(0.972 1.140)" fill="#0000FF" font-size="11" text-anchor="end" font-weight="normal" >35.0</text>
<text xml:space="preserve" transform="translate(108.3 300.0) scale(0.972 1.140)" fill="#0000FF" font-size="11" text-anchor="end" font-weight="normal" >30.0</text>
<text xml:space="preserve" transform="translate(108.3 334.0) scale(0.972 1.140)" fill="#0000FF" font-size="11" text-anchor="end" font-weight="normal" >25.0</text>
<text xml:space="preserve" transform="translate(108.3 368.0) scale(0.972 1.140)" fill="#0000FF" font-size="11" text-anchor="end" font-weight="normal" >20.0</text>
<text xml:space="preserve" transform="translate(108.3 403.0) scale(0.972 1.140)" fill="#0000FF" font-size="11" text-anchor="end" font-weight="normal" >15.0</text>
<text xml:space="preserve" transform="translate(108.3 437.0) scale(0.972 1.140)" fill="#0000FF" font-size="11" text-anchor="end" font-weight="normal" >10.0</text>
<text xml:space="preserve" transform="translate(108.3 471.0) scale(0.972 1.140)" fill="#0000FF" font-size="11" text-anchor="end" font-weight="normal" >5.0</text>
<text xml:space="preserve" transform="translate(108.3 505.0) scale(0.972 1.140)" fill="#0000FF" font-size="11" text-anchor="end" font-weight="normal" >0.0</text>
<text xml:space="preserve" transform="translate(86.6 79.0) scale(0.972 1.140)" fill="#0000FF" font-size="11" text-anchor="start" font-weight="normal" >l/m²</text>
<g shape-rendering="crispEdges">
<rect x="151" y="90" width="1" height="411" fill="#808080"/>
<rect x="147" y="90" width="8" height="1" fill="#808080"/>
<rect x="147" y="124" width="4" height="1" fill="#808080"/>
<rect x="147" y="158" width="4" height="1" fill="#808080"/>
<rect x="147" y="192" width="4" height="1" fill="#808080"/>
<rect x="147" y="227" width="4" height="1" fill="#808080"/>
<rect x="147" y="261" width="4" height="1" fill="#808080"/>
<rect x="147" y="295" width="4" height="1" fill="#808080"/>
<rect x="147" y="329" width="4" height="1" fill="#808080"/>
<rect x="147" y="363" width="4" height="1" fill="#808080"/>
<rect x="147" y="398" width="4" height="1" fill="#808080"/>
<rect x="147" y="432" width="4" height="1" fill="#808080"/>
<rect x="147" y="466" width="4" height="1" fill="#808080"/>
<rect x="147" y="500" width="8" height="1" fill="#808080"/>
</g>
<text xml:space="preserve" transform="translate(145.0 95.0) scale(0.972 1.140)" fill="#808080" font-size="11" text-anchor="end" font-weight="normal" >360 N</text>
<text xml:space="preserve" transform="translate(145.0 129.0) scale(0.972 1.140)" fill="#808080" font-size="11" text-anchor="end" font-weight="normal" >330</text>
<text xml:space="preserve" transform="translate(145.0 163.0) scale(0.972 1.140)" fill="#808080" font-size="11" text-anchor="end" font-weight="normal" >300</text>
<text xml:space="preserve" transform="translate(145.0 197.0) scale(0.972 1.140)" fill="#808080" font-size="11" text-anchor="end" font-weight="normal" >270 W</text>
<text xml:space="preserve" transform="translate(145.0 232.0) scale(0.972 1.140)" fill="#808080" font-size="11" text-anchor="end" font-weight="normal" >240</text>
<text xml:space="preserve" transform="translate(145.0 266.0) scale(0.972 1.140)" fill="#808080" font-size="11" text-anchor="end" font-weight="normal" >210</text>
<text xml:space="preserve" transform="translate(145.0 300.0) scale(0.972 1.140)" fill="#808080" font-size="11" text-anchor="end" font-weight="normal" >180 S</text>
<text xml:space="preserve" transform="translate(145.0 334.0) scale(0.972 1.140)" fill="#808080" font-size="11" text-anchor="end" font-weight="normal" >150</text>
<text xml:space="preserve" transform="translate(145.0 368.0) scale(0.972 1.140)" fill="#808080" font-size="11" text-anchor="end" font-weight="normal" >120</text>
<text xml:space="preserve" transform="translate(145.0 403.0) scale(0.972 1.140)" fill="#808080" font-size="11" text-anchor="end" font-weight="normal" >90  O</text>
<text xml:space="preserve" transform="translate(145.0 437.0) scale(0.972 1.140)" fill="#808080" font-size="11" text-anchor="end" font-weight="normal" >60</text>
<text xml:space="preserve" transform="translate(145.0 471.0) scale(0.972 1.140)" fill="#808080" font-size="11" text-anchor="end" font-weight="normal" >30</text>
<text xml:space="preserve" transform="translate(145.0 505.0) scale(0.972 1.140)" fill="#808080" font-size="11" text-anchor="end" font-weight="normal" >0    N</text>
<text xml:space="preserve" transform="translate(137.5 79.0) scale(0.972 1.140)" fill="#808080" font-size="11" text-anchor="start" font-weight="normal" >°</text>
<g shape-rendering="crispEdges">
<rect x="184" y="90" width="4" height="1" fill="#808080"/>
<rect x="184" y="131" width="4" height="1" fill="#808080"/>
<rect x="184" y="172" width="4" height="1" fill="#808080"/>
<rect x="184" y="213" width="4" height="1" fill="#808080"/>
<rect x="184" y="254" width="4" height="1" fill="#808080"/>
<rect x="184" y="295" width="4" height="1" fill="#808080"/>
<rect x="184" y="336" width="4" height="1" fill="#808080"/>
<rect x="184" y="377" width="4" height="1" fill="#808080"/>
<rect x="184" y="418" width="4" height="1" fill="#808080"/>
<rect x="184" y="459" width="4" height="1" fill="#808080"/>
<rect x="184" y="500" width="4" height="1" fill="#808080"/>
</g>
<text xml:space="preserve" transform="translate(182.0 95.0) scale(0.972 1.140)" fill="#FFFF00" font-size="11" text-anchor="end" font-weight="normal" >10.0</text>
<text xml:space="preserve" transform="translate(182.0 136.0) scale(0.972 1.140)" fill="#FFFF00" font-size="11" text-anchor="end" font-weight="normal" >9.0</text>
<text xml:space="preserve" transform="translate(182.0 177.0) scale(0.972 1.140)" fill="#FFFF00" font-size="11" text-anchor="end" font-weight="normal" >8.0</text>
<text xml:space="preserve" transform="translate(182.0 218.0) scale(0.972 1.140)" fill="#FFFF00" font-size="11" text-anchor="end" font-weight="normal" >7.0</text>
<text xml:space="preserve" transform="translate(182.0 259.0) scale(0.972 1.140)" fill="#FFFF00" font-size="11" text-anchor="end" font-weight="normal" >6.0</text>
<text xml:space="preserve" transform="translate(182.0 300.0) scale(0.972 1.140)" fill="#FFFF00" font-size="11" text-anchor="end" font-weight="normal" >5.0</text>
<text xml:space="preserve" transform="translate(182.0 341.0) scale(0.972 1.140)" fill="#FFFF00" font-size="11" text-anchor="end" font-weight="normal" >4.0</text>
<text xml:space="preserve" transform="translate(182.0 382.0) scale(0.972 1.140)" fill="#FFFF00" font-size="11" text-anchor="end" font-weight="normal" >3.0</text>
<text xml:space="preserve" transform="translate(182.0 423.0) scale(0.972 1.140)" fill="#FFFF00" font-size="11" text-anchor="end" font-weight="normal" >2.0</text>
<text xml:space="preserve" transform="translate(182.0 464.0) scale(0.972 1.140)" fill="#FFFF00" font-size="11" text-anchor="end" font-weight="normal" >1.0</text>
<text xml:space="preserve" transform="translate(182.0 505.0) scale(0.972 1.140)" fill="#FFFF00" font-size="11" text-anchor="end" font-weight="normal" >0.0</text>
<text xml:space="preserve" transform="translate(157.7 79.0) scale(0.972 1.140)" fill="#FFFF00" font-size="11" text-anchor="start" font-weight="normal" >UV-I</text>
<g shape-rendering="crispEdges">
<rect x="648" y="90" width="5" height="1" fill="#808080"/>
<rect x="648" y="131" width="5" height="1" fill="#808080"/>
<rect x="648" y="172" width="5" height="1" fill="#808080"/>
<rect x="648" y="213" width="5" height="1" fill="#808080"/>
<rect x="648" y="254" width="5" height="1" fill="#808080"/>
<rect x="648" y="295" width="5" height="1" fill="#808080"/>
<rect x="648" y="336" width="5" height="1" fill="#808080"/>
<rect x="648" y="377" width="5" height="1" fill="#808080"/>
<rect x="648" y="418" width="5" height="1" fill="#808080"/>
<rect x="648" y="459" width="5" height="1" fill="#808080"/>
<rect x="648" y="500" width="5" height="1" fill="#808080"/>
</g>
<text xml:space="preserve" transform="translate(654.3 95.0) scale(0.972 1.140)" fill="#8080FF" font-size="11" text-anchor="start" font-weight="normal" >100</text>
<text xml:space="preserve" transform="translate(654.3 136.0) scale(0.972 1.140)" fill="#8080FF" font-size="11" text-anchor="start" font-weight="normal" >90</text>
<text xml:space="preserve" transform="translate(654.3 177.0) scale(0.972 1.140)" fill="#8080FF" font-size="11" text-anchor="start" font-weight="normal" >80</text>
<text xml:space="preserve" transform="translate(654.3 218.0) scale(0.972 1.140)" fill="#8080FF" font-size="11" text-anchor="start" font-weight="normal" >70</text>
<text xml:space="preserve" transform="translate(654.3 259.0) scale(0.972 1.140)" fill="#8080FF" font-size="11" text-anchor="start" font-weight="normal" >60</text>
<text xml:space="preserve" transform="translate(654.3 300.0) scale(0.972 1.140)" fill="#8080FF" font-size="11" text-anchor="start" font-weight="normal" >50</text>
<text xml:space="preserve" transform="translate(654.3 341.0) scale(0.972 1.140)" fill="#8080FF" font-size="11" text-anchor="start" font-weight="normal" >40</text>
<text xml:space="preserve" transform="translate(654.3 382.0) scale(0.972 1.140)" fill="#8080FF" font-size="11" text-anchor="start" font-weight="normal" >30</text>
<text xml:space="preserve" transform="translate(654.3 423.0) scale(0.972 1.140)" fill="#8080FF" font-size="11" text-anchor="start" font-weight="normal" >20</text>
<text xml:space="preserve" transform="translate(654.3 464.0) scale(0.972 1.140)" fill="#8080FF" font-size="11" text-anchor="start" font-weight="normal" >10</text>
<text xml:space="preserve" transform="translate(654.3 505.0) scale(0.972 1.140)" fill="#8080FF" font-size="11" text-anchor="start" font-weight="normal" >0</text>
<text xml:space="preserve" transform="translate(649.0 79.0) scale(1.000 1.140)" fill="#8080FF" font-size="11" text-anchor="start" font-weight="normal"  textLength="7.6" lengthAdjust="spacingAndGlyphs">%</text>
<g shape-rendering="crispEdges">
<rect x="685" y="90" width="1" height="411" fill="#808080"/>
<rect x="681" y="90" width="9" height="1" fill="#808080"/>
<rect x="685" y="107" width="5" height="1" fill="#808080"/>
<rect x="685" y="124" width="5" height="1" fill="#808080"/>
<rect x="685" y="141" width="5" height="1" fill="#808080"/>
<rect x="685" y="158" width="5" height="1" fill="#808080"/>
<rect x="685" y="175" width="5" height="1" fill="#808080"/>
<rect x="685" y="192" width="5" height="1" fill="#808080"/>
<rect x="685" y="210" width="5" height="1" fill="#808080"/>
<rect x="685" y="227" width="5" height="1" fill="#808080"/>
<rect x="685" y="244" width="5" height="1" fill="#808080"/>
<rect x="685" y="261" width="5" height="1" fill="#808080"/>
<rect x="685" y="278" width="5" height="1" fill="#808080"/>
<rect x="685" y="295" width="5" height="1" fill="#808080"/>
<rect x="685" y="312" width="5" height="1" fill="#808080"/>
<rect x="685" y="329" width="5" height="1" fill="#808080"/>
<rect x="685" y="346" width="5" height="1" fill="#808080"/>
<rect x="685" y="363" width="5" height="1" fill="#808080"/>
<rect x="685" y="380" width="5" height="1" fill="#808080"/>
<rect x="685" y="398" width="5" height="1" fill="#808080"/>
<rect x="685" y="415" width="5" height="1" fill="#808080"/>
<rect x="685" y="432" width="5" height="1" fill="#808080"/>
<rect x="685" y="449" width="5" height="1" fill="#808080"/>
<rect x="685" y="466" width="5" height="1" fill="#808080"/>
<rect x="685" y="483" width="5" height="1" fill="#808080"/>
<rect x="681" y="500" width="9" height="1" fill="#808080"/>
</g>
<text xml:space="preserve" transform="translate(691.5 95.0) scale(0.972 1.140)" fill="#FF0080" font-size="11" text-anchor="start" font-weight="normal" >1039</text>
<text xml:space="preserve" transform="translate(691.5 112.0) scale(0.972 1.140)" fill="#FF0080" font-size="11" text-anchor="start" font-weight="normal" >1037</text>
<text xml:space="preserve" transform="translate(691.5 129.0) scale(0.972 1.140)" fill="#FF0080" font-size="11" text-anchor="start" font-weight="normal" >1035</text>
<text xml:space="preserve" transform="translate(691.5 146.0) scale(0.972 1.140)" fill="#FF0080" font-size="11" text-anchor="start" font-weight="normal" >1033</text>
<text xml:space="preserve" transform="translate(691.5 163.0) scale(0.972 1.140)" fill="#FF0080" font-size="11" text-anchor="start" font-weight="normal" >1031</text>
<text xml:space="preserve" transform="translate(691.5 180.0) scale(0.972 1.140)" fill="#FF0080" font-size="11" text-anchor="start" font-weight="normal" >1029</text>
<text xml:space="preserve" transform="translate(691.5 197.0) scale(0.972 1.140)" fill="#FF0080" font-size="11" text-anchor="start" font-weight="normal" >1027</text>
<text xml:space="preserve" transform="translate(691.5 215.0) scale(0.972 1.140)" fill="#FF0080" font-size="11" text-anchor="start" font-weight="normal" >1025</text>
<text xml:space="preserve" transform="translate(691.5 232.0) scale(0.972 1.140)" fill="#FF0080" font-size="11" text-anchor="start" font-weight="normal" >1023</text>
<text xml:space="preserve" transform="translate(691.5 249.0) scale(0.972 1.140)" fill="#FF0080" font-size="11" text-anchor="start" font-weight="normal" >1021</text>
<text xml:space="preserve" transform="translate(691.5 266.0) scale(0.972 1.140)" fill="#FF0080" font-size="11" text-anchor="start" font-weight="normal" >1019</text>
<text xml:space="preserve" transform="translate(691.5 283.0) scale(0.972 1.140)" fill="#FF0080" font-size="11" text-anchor="start" font-weight="normal" >1017</text>
<text xml:space="preserve" transform="translate(691.5 300.0) scale(0.972 1.140)" fill="#FF0080" font-size="11" text-anchor="start" font-weight="normal" >1015</text>
<text xml:space="preserve" transform="translate(691.5 317.0) scale(0.972 1.140)" fill="#FF0080" font-size="11" text-anchor="start" font-weight="normal" >1013</text>
<text xml:space="preserve" transform="translate(691.5 334.0) scale(0.972 1.140)" fill="#FF0080" font-size="11" text-anchor="start" font-weight="normal" >1011</text>
<text xml:space="preserve" transform="translate(691.5 351.0) scale(0.972 1.140)" fill="#FF0080" font-size="11" text-anchor="start" font-weight="normal" >1009</text>
<text xml:space="preserve" transform="translate(691.5 368.0) scale(0.972 1.140)" fill="#FF0080" font-size="11" text-anchor="start" font-weight="normal" >1007</text>
<text xml:space="preserve" transform="translate(691.5 385.0) scale(0.972 1.140)" fill="#FF0080" font-size="11" text-anchor="start" font-weight="normal" >1005</text>
<text xml:space="preserve" transform="translate(691.5 403.0) scale(0.972 1.140)" fill="#FF0080" font-size="11" text-anchor="start" font-weight="normal" >1003</text>
<text xml:space="preserve" transform="translate(691.5 420.0) scale(0.972 1.140)" fill="#FF0080" font-size="11" text-anchor="start" font-weight="normal" >1001</text>
<text xml:space="preserve" transform="translate(691.5 437.0) scale(0.972 1.140)" fill="#FF0080" font-size="11" text-anchor="start" font-weight="normal" >999</text>
<text xml:space="preserve" transform="translate(691.5 454.0) scale(0.972 1.140)" fill="#FF0080" font-size="11" text-anchor="start" font-weight="normal" >997</text>
<text xml:space="preserve" transform="translate(691.5 471.0) scale(0.972 1.140)" fill="#FF0080" font-size="11" text-anchor="start" font-weight="normal" >995</text>
<text xml:space="preserve" transform="translate(691.5 488.0) scale(0.972 1.140)" fill="#FF0080" font-size="11" text-anchor="start" font-weight="normal" >993</text>
<text xml:space="preserve" transform="translate(691.5 505.0) scale(0.972 1.140)" fill="#FF0080" font-size="11" text-anchor="start" font-weight="normal" >991</text>
<text xml:space="preserve" transform="translate(685.8 79.0) scale(0.972 1.140)" fill="#FF0080" font-size="11" text-anchor="start" font-weight="normal" >hPa</text>
<g shape-rendering="crispEdges">
<rect x="722" y="90" width="1" height="411" fill="#808080"/>
<rect x="718" y="90" width="9" height="1" fill="#808080"/>
<rect x="722" y="124" width="5" height="1" fill="#808080"/>
<rect x="722" y="158" width="5" height="1" fill="#808080"/>
<rect x="722" y="192" width="5" height="1" fill="#808080"/>
<rect x="722" y="227" width="5" height="1" fill="#808080"/>
<rect x="722" y="261" width="5" height="1" fill="#808080"/>
<rect x="722" y="295" width="5" height="1" fill="#808080"/>
<rect x="722" y="329" width="5" height="1" fill="#808080"/>
<rect x="722" y="363" width="5" height="1" fill="#808080"/>
<rect x="722" y="398" width="5" height="1" fill="#808080"/>
<rect x="722" y="432" width="5" height="1" fill="#808080"/>
<rect x="722" y="466" width="5" height="1" fill="#808080"/>
<rect x="718" y="500" width="9" height="1" fill="#808080"/>
</g>
<text xml:space="preserve" transform="translate(728.8 95.0) scale(0.972 1.140)" fill="#000" font-size="11" text-anchor="start" font-weight="normal" >60.0</text>
<text xml:space="preserve" transform="translate(728.8 129.0) scale(0.972 1.140)" fill="#000" font-size="11" text-anchor="start" font-weight="normal" >55.0</text>
<text xml:space="preserve" transform="translate(728.8 163.0) scale(0.972 1.140)" fill="#000" font-size="11" text-anchor="start" font-weight="normal" >50.0</text>
<text xml:space="preserve" transform="translate(728.8 197.0) scale(0.972 1.140)" fill="#000" font-size="11" text-anchor="start" font-weight="normal" >45.0</text>
<text xml:space="preserve" transform="translate(728.8 232.0) scale(0.972 1.140)" fill="#000" font-size="11" text-anchor="start" font-weight="normal" >40.0</text>
<text xml:space="preserve" transform="translate(728.8 266.0) scale(0.972 1.140)" fill="#000" font-size="11" text-anchor="start" font-weight="normal" >35.0</text>
<text xml:space="preserve" transform="translate(728.8 300.0) scale(0.972 1.140)" fill="#000" font-size="11" text-anchor="start" font-weight="normal" >30.0</text>
<text xml:space="preserve" transform="translate(728.8 334.0) scale(0.972 1.140)" fill="#000" font-size="11" text-anchor="start" font-weight="normal" >25.0</text>
<text xml:space="preserve" transform="translate(728.8 368.0) scale(0.972 1.140)" fill="#000" font-size="11" text-anchor="start" font-weight="normal" >20.0</text>
<text xml:space="preserve" transform="translate(728.8 403.0) scale(0.972 1.140)" fill="#000" font-size="11" text-anchor="start" font-weight="normal" >15.0</text>
<text xml:space="preserve" transform="translate(728.8 437.0) scale(0.972 1.140)" fill="#000" font-size="11" text-anchor="start" font-weight="normal" >10.0</text>
<text xml:space="preserve" transform="translate(728.8 471.0) scale(0.972 1.140)" fill="#000" font-size="11" text-anchor="start" font-weight="normal" >5.0</text>
<text xml:space="preserve" transform="translate(728.8 505.0) scale(0.972 1.140)" fill="#000" font-size="11" text-anchor="start" font-weight="normal" >0.0</text>
<text xml:space="preserve" transform="translate(722.5 79.0) scale(1.000 1.140)" fill="#000" font-size="11" text-anchor="start" font-weight="normal"  textLength="26.3" lengthAdjust="spacingAndGlyphs">km/h</text>
<g shape-rendering="crispEdges">
<rect x="759" y="90" width="1" height="411" fill="#808080"/>
<rect x="755" y="90" width="9" height="1" fill="#808080"/>
<rect x="759" y="131" width="5" height="1" fill="#808080"/>
<rect x="759" y="172" width="5" height="1" fill="#808080"/>
<rect x="759" y="213" width="5" height="1" fill="#808080"/>
<rect x="759" y="254" width="5" height="1" fill="#808080"/>
<rect x="759" y="295" width="5" height="1" fill="#808080"/>
<rect x="759" y="336" width="5" height="1" fill="#808080"/>
<rect x="759" y="377" width="5" height="1" fill="#808080"/>
<rect x="759" y="418" width="5" height="1" fill="#808080"/>
<rect x="759" y="459" width="5" height="1" fill="#808080"/>
<rect x="755" y="500" width="9" height="1" fill="#808080"/>
</g>
<text xml:space="preserve" transform="translate(765.3 95.0) scale(0.972 1.140)" fill="#FF8000" font-size="11" text-anchor="start" font-weight="normal" >100</text>
<text xml:space="preserve" transform="translate(765.3 136.0) scale(0.972 1.140)" fill="#FF8000" font-size="11" text-anchor="start" font-weight="normal" >90</text>
<text xml:space="preserve" transform="translate(765.3 177.0) scale(0.972 1.140)" fill="#FF8000" font-size="11" text-anchor="start" font-weight="normal" >80</text>
<text xml:space="preserve" transform="translate(765.3 218.0) scale(0.972 1.140)" fill="#FF8000" font-size="11" text-anchor="start" font-weight="normal" >70</text>
<text xml:space="preserve" transform="translate(765.3 259.0) scale(0.972 1.140)" fill="#FF8000" font-size="11" text-anchor="start" font-weight="normal" >60</text>
<text xml:space="preserve" transform="translate(765.3 300.0) scale(0.972 1.140)" fill="#FF8000" font-size="11" text-anchor="start" font-weight="normal" >50</text>
<text xml:space="preserve" transform="translate(765.3 341.0) scale(0.972 1.140)" fill="#FF8000" font-size="11" text-anchor="start" font-weight="normal" >40</text>
<text xml:space="preserve" transform="translate(765.3 382.0) scale(0.972 1.140)" fill="#FF8000" font-size="11" text-anchor="start" font-weight="normal" >30</text>
<text xml:space="preserve" transform="translate(765.3 423.0) scale(0.972 1.140)" fill="#FF8000" font-size="11" text-anchor="start" font-weight="normal" >20</text>
<text xml:space="preserve" transform="translate(765.3 464.0) scale(0.972 1.140)" fill="#FF8000" font-size="11" text-anchor="start" font-weight="normal" >10</text>
<text xml:space="preserve" transform="translate(765.3 505.0) scale(0.972 1.140)" fill="#FF8000" font-size="11" text-anchor="start" font-weight="normal" >0</text>
<text xml:space="preserve" transform="translate(760.0 79.0) scale(0.972 1.140)" fill="#FF8000" font-size="11" text-anchor="start" font-weight="normal" >h</text>
<g shape-rendering="crispEdges">
<rect x="796" y="90" width="1" height="411" fill="#808080"/>
<rect x="792" y="90" width="9" height="1" fill="#808080"/>
<rect x="796" y="110" width="5" height="1" fill="#808080"/>
<rect x="796" y="131" width="5" height="1" fill="#808080"/>
<rect x="796" y="152" width="5" height="1" fill="#808080"/>
<rect x="796" y="172" width="5" height="1" fill="#808080"/>
<rect x="796" y="192" width="5" height="1" fill="#808080"/>
<rect x="796" y="213" width="5" height="1" fill="#808080"/>
<rect x="796" y="234" width="5" height="1" fill="#808080"/>
<rect x="796" y="254" width="5" height="1" fill="#808080"/>
<rect x="796" y="274" width="5" height="1" fill="#808080"/>
<rect x="796" y="295" width="5" height="1" fill="#808080"/>
<rect x="796" y="316" width="5" height="1" fill="#808080"/>
<rect x="796" y="336" width="5" height="1" fill="#808080"/>
<rect x="796" y="356" width="5" height="1" fill="#808080"/>
<rect x="796" y="377" width="5" height="1" fill="#808080"/>
<rect x="796" y="398" width="5" height="1" fill="#808080"/>
<rect x="796" y="418" width="5" height="1" fill="#808080"/>
<rect x="796" y="438" width="5" height="1" fill="#808080"/>
<rect x="796" y="459" width="5" height="1" fill="#808080"/>
<rect x="796" y="480" width="5" height="1" fill="#808080"/>
<rect x="792" y="500" width="9" height="1" fill="#808080"/>
</g>
<text xml:space="preserve" transform="translate(802.6 95.0) scale(0.972 1.140)" fill="#FFA07A" font-size="11" text-anchor="start" font-weight="normal" >1000</text>
<text xml:space="preserve" transform="translate(802.6 115.0) scale(0.972 1.140)" fill="#FFA07A" font-size="11" text-anchor="start" font-weight="normal" >950</text>
<text xml:space="preserve" transform="translate(802.6 136.0) scale(0.972 1.140)" fill="#FFA07A" font-size="11" text-anchor="start" font-weight="normal" >900</text>
<text xml:space="preserve" transform="translate(802.6 157.0) scale(0.972 1.140)" fill="#FFA07A" font-size="11" text-anchor="start" font-weight="normal" >850</text>
<text xml:space="preserve" transform="translate(802.6 177.0) scale(0.972 1.140)" fill="#FFA07A" font-size="11" text-anchor="start" font-weight="normal" >800</text>
<text xml:space="preserve" transform="translate(802.6 197.0) scale(0.972 1.140)" fill="#FFA07A" font-size="11" text-anchor="start" font-weight="normal" >750</text>
<text xml:space="preserve" transform="translate(802.6 218.0) scale(0.972 1.140)" fill="#FFA07A" font-size="11" text-anchor="start" font-weight="normal" >700</text>
<text xml:space="preserve" transform="translate(802.6 239.0) scale(0.972 1.140)" fill="#FFA07A" font-size="11" text-anchor="start" font-weight="normal" >650</text>
<text xml:space="preserve" transform="translate(802.6 259.0) scale(0.972 1.140)" fill="#FFA07A" font-size="11" text-anchor="start" font-weight="normal" >600</text>
<text xml:space="preserve" transform="translate(802.6 279.0) scale(0.972 1.140)" fill="#FFA07A" font-size="11" text-anchor="start" font-weight="normal" >550</text>
<text xml:space="preserve" transform="translate(802.6 300.0) scale(0.972 1.140)" fill="#FFA07A" font-size="11" text-anchor="start" font-weight="normal" >500</text>
<text xml:space="preserve" transform="translate(802.6 321.0) scale(0.972 1.140)" fill="#FFA07A" font-size="11" text-anchor="start" font-weight="normal" >450</text>
<text xml:space="preserve" transform="translate(802.6 341.0) scale(0.972 1.140)" fill="#FFA07A" font-size="11" text-anchor="start" font-weight="normal" >400</text>
<text xml:space="preserve" transform="translate(802.6 361.0) scale(0.972 1.140)" fill="#FFA07A" font-size="11" text-anchor="start" font-weight="normal" >350</text>
<text xml:space="preserve" transform="translate(802.6 382.0) scale(0.972 1.140)" fill="#FFA07A" font-size="11" text-anchor="start" font-weight="normal" >300</text>
<text xml:space="preserve" transform="translate(802.6 403.0) scale(0.972 1.140)" fill="#FFA07A" font-size="11" text-anchor="start" font-weight="normal" >250</text>
<text xml:space="preserve" transform="translate(802.6 423.0) scale(0.972 1.140)" fill="#FFA07A" font-size="11" text-anchor="start" font-weight="normal" >200</text>
<text xml:space="preserve" transform="translate(802.6 443.0) scale(0.972 1.140)" fill="#FFA07A" font-size="11" text-anchor="start" font-weight="normal" >150</text>
<text xml:space="preserve" transform="translate(802.6 464.0) scale(0.972 1.140)" fill="#FFA07A" font-size="11" text-anchor="start" font-weight="normal" >100</text>
<text xml:space="preserve" transform="translate(802.6 485.0) scale(0.972 1.140)" fill="#FFA07A" font-size="11" text-anchor="start" font-weight="normal" >50</text>
<text xml:space="preserve" transform="translate(802.6 505.0) scale(0.972 1.140)" fill="#FFA07A" font-size="11" text-anchor="start" font-weight="normal" >0</text>
<text xml:space="preserve" transform="translate(796.5 79.0) scale(0.972 1.140)" fill="#FFA07A" font-size="11" text-anchor="start" font-weight="normal" >W/m²</text>
<g shape-rendering="crispEdges">
<rect x="1" y="534" width="834" height="86" fill="#C0C0C0"/>
<rect x="87" y="534" width="1" height="86" fill="#fff"/>
<rect x="88" y="534" width="1" height="86" fill="#909090"/>
<rect x="204" y="534" width="1" height="86" fill="#fff"/>
<rect x="205" y="534" width="1" height="86" fill="#909090"/>
<rect x="322" y="534" width="1" height="86" fill="#fff"/>
<rect x="323" y="534" width="1" height="86" fill="#909090"/>
<rect x="440" y="534" width="1" height="86" fill="#fff"/>
<rect x="441" y="534" width="1" height="86" fill="#909090"/>
<rect x="558" y="534" width="1" height="86" fill="#fff"/>
<rect x="559" y="534" width="1" height="86" fill="#909090"/>
<rect x="676" y="534" width="1" height="86" fill="#fff"/>
<rect x="677" y="534" width="1" height="86" fill="#909090"/>
<rect x="794" y="534" width="1" height="86" fill="#fff"/>
<rect x="795" y="534" width="1" height="86" fill="#909090"/>
</g>
<text xml:space="preserve" transform="translate(8.3 552.0) scale(1.000 1.140)" fill="#000" font-size="11" text-anchor="start" font-weight="bold"  textLength="39.2" lengthAdjust="spacingAndGlyphs">Sensor</text>
<text xml:space="preserve" transform="translate(8.3 568.0) scale(1.000 1.140)" fill="#000" font-size="11" text-anchor="start" font-weight="bold"  textLength="47.0" lengthAdjust="spacingAndGlyphs">MinWert</text>
<text xml:space="preserve" transform="translate(8.3 584.0) scale(1.000 1.140)" fill="#000" font-size="11" text-anchor="start" font-weight="bold"  textLength="50.5" lengthAdjust="spacingAndGlyphs">MaxWert</text>
<text xml:space="preserve" transform="translate(8.3 600.0) scale(1.000 1.140)" fill="#000" font-size="11" text-anchor="start" font-weight="bold"  textLength="72.7" lengthAdjust="spacingAndGlyphs">Durchschnitt</text>
<text xml:space="preserve" transform="translate(8.3 616.0) scale(1.000 1.140)" fill="#000" font-size="11" text-anchor="start" font-weight="bold"  textLength="35.5" lengthAdjust="spacingAndGlyphs">31.12.</text>
<text xml:space="preserve" transform="translate(94.7 552.0) scale(1.000 1.140)" fill="#000" font-size="11" text-anchor="start" font-weight="bold"  textLength="64.4" lengthAdjust="spacingAndGlyphs">T- 2m aktiv</text>
<text xml:space="preserve" transform="translate(198.8 552.0) scale(1.000 1.140)" fill="#000" font-size="11" text-anchor="end" font-weight="bold"  textLength="13.0" lengthAdjust="spacingAndGlyphs">°C</text>
<text xml:space="preserve" transform="translate(95.0 568.0) scale(0.972 1.140)" fill="#000" font-size="11" text-anchor="start" font-weight="normal" >22.12.  07:40</text>
<text xml:space="preserve" transform="translate(198.5 568.0) scale(0.972 1.140)" fill="#000" font-size="11" text-anchor="end" font-weight="normal" >-5.7</text>
<text xml:space="preserve" transform="translate(95.0 584.0) scale(0.972 1.140)" fill="#000" font-size="11" text-anchor="start" font-weight="normal" >30.12.  12:40</text>
<text xml:space="preserve" transform="translate(198.5 584.0) scale(0.972 1.140)" fill="#000" font-size="11" text-anchor="end" font-weight="normal" >15.2</text>
<text xml:space="preserve" transform="translate(100.0 600.0) scale(0.972 1.140)" fill="#000" font-size="11" text-anchor="start" font-weight="normal" >(+ 2.99 )</text>
<text xml:space="preserve" transform="translate(198.5 600.0) scale(0.972 1.140)" fill="#000" font-size="11" text-anchor="end" font-weight="normal" >5.19</text>
<text xml:space="preserve" transform="translate(198.8 616.0) scale(1.000 1.140)" fill="#000" font-size="11" text-anchor="end" font-weight="bold"  textLength="25.6" lengthAdjust="spacingAndGlyphs">11.7</text>
<text xml:space="preserve" transform="translate(212.3 552.0) scale(1.000 1.140)" fill="#000" font-size="11" text-anchor="start" font-weight="bold"  textLength="63.1" lengthAdjust="spacingAndGlyphs">F- 2m aktiv</text>
<text xml:space="preserve" transform="translate(316.8 552.0) scale(1.000 1.140)" fill="#000" font-size="11" text-anchor="end" font-weight="bold"  textLength="9.8" lengthAdjust="spacingAndGlyphs">%</text>
<text xml:space="preserve" transform="translate(212.6 568.0) scale(0.972 1.140)" fill="#000" font-size="11" text-anchor="start" font-weight="normal" >08.12.  00:50</text>
<text xml:space="preserve" transform="translate(316.5 568.0) scale(0.972 1.140)" fill="#000" font-size="11" text-anchor="end" font-weight="normal" >67</text>
<text xml:space="preserve" transform="translate(212.6 584.0) scale(0.972 1.140)" fill="#000" font-size="11" text-anchor="start" font-weight="normal" >04.12.  11:20</text>
<text xml:space="preserve" transform="translate(316.5 584.0) scale(0.972 1.140)" fill="#000" font-size="11" text-anchor="end" font-weight="normal" >100</text>
<text xml:space="preserve" transform="translate(316.5 600.0) scale(0.972 1.140)" fill="#000" font-size="11" text-anchor="end" font-weight="normal" >91</text>
<text xml:space="preserve" transform="translate(215.6 616.0) scale(0.972 1.140)" fill="#000" font-size="11" text-anchor="start" font-weight="normal" >9.63 g/m³</text>
<text xml:space="preserve" transform="translate(316.8 616.0) scale(1.000 1.140)" fill="#000" font-size="11" text-anchor="end" font-weight="bold"  textLength="14.3" lengthAdjust="spacingAndGlyphs">92</text>
<text xml:space="preserve" transform="translate(330.5 552.0) scale(1.000 1.140)" fill="#000" font-size="11" text-anchor="start" font-weight="bold"  textLength="53.8" lengthAdjust="spacingAndGlyphs">Luftdruck</text>
<text xml:space="preserve" transform="translate(434.3 552.0) scale(1.000 1.140)" fill="#000" font-size="11" text-anchor="end" font-weight="bold"  textLength="22.4" lengthAdjust="spacingAndGlyphs">hPa</text>
<text xml:space="preserve" transform="translate(330.8 568.0) scale(0.972 1.140)" fill="#000" font-size="11" text-anchor="start" font-weight="normal" >10.12.  13:15</text>
<text xml:space="preserve" transform="translate(434.0 568.0) scale(0.972 1.140)" fill="#000" font-size="11" text-anchor="end" font-weight="normal" >991.8</text>
<text xml:space="preserve" transform="translate(330.8 584.0) scale(0.972 1.140)" fill="#000" font-size="11" text-anchor="start" font-weight="normal" >17.12.  11:00</text>
<text xml:space="preserve" transform="translate(434.0 584.0) scale(0.972 1.140)" fill="#000" font-size="11" text-anchor="end" font-weight="normal" >1038.3</text>
<text xml:space="preserve" transform="translate(434.0 600.0) scale(0.972 1.140)" fill="#000" font-size="11" text-anchor="end" font-weight="normal" >1014.9</text>
<text xml:space="preserve" transform="translate(434.3 616.0) scale(1.000 1.140)" fill="#000" font-size="11" text-anchor="end" font-weight="bold"  textLength="39.4" lengthAdjust="spacingAndGlyphs">1022.0</text>
<text xml:space="preserve" transform="translate(448.7 552.0) scale(1.000 1.140)" fill="#000" font-size="11" text-anchor="start" font-weight="bold"  textLength="57.0" lengthAdjust="spacingAndGlyphs">Windböen</text>
<text xml:space="preserve" transform="translate(552.6 552.0) scale(1.000 1.140)" fill="#000" font-size="11" text-anchor="end" font-weight="bold"  textLength="30.0" lengthAdjust="spacingAndGlyphs">km/h</text>
<text xml:space="preserve" transform="translate(449.0 568.0) scale(0.972 1.140)" fill="#000" font-size="11" text-anchor="start" font-weight="normal" >01.12.  19:35</text>
<text xml:space="preserve" transform="translate(552.3 568.0) scale(0.972 1.140)" fill="#000" font-size="11" text-anchor="end" font-weight="normal" >0.0</text>
<text xml:space="preserve" transform="translate(449.0 584.0) scale(0.972 1.140)" fill="#000" font-size="11" text-anchor="start" font-weight="normal" >29.12.  00:(S-SO</text>
<text xml:space="preserve" transform="translate(552.3 584.0) scale(0.972 1.140)" fill="#000" font-size="11" text-anchor="end" font-weight="normal" >29.0</text>
<text xml:space="preserve" transform="translate(552.3 600.0) scale(0.972 1.140)" fill="#000" font-size="11" text-anchor="end" font-weight="normal" >3.0</text>
<text xml:space="preserve" transform="translate(454.8 616.0) scale(0.972 1.140)" fill="#000" font-size="11" text-anchor="start" font-weight="normal" >1 Bft S-SO</text>
<text xml:space="preserve" transform="translate(552.6 616.0) scale(1.000 1.140)" fill="#000" font-size="11" text-anchor="end" font-weight="bold"  textLength="18.1" lengthAdjust="spacingAndGlyphs">3.7</text>
<text xml:space="preserve" transform="translate(566.4 552.0) scale(1.000 1.140)" fill="#000" font-size="11" text-anchor="start" font-weight="bold"  textLength="37.5" lengthAdjust="spacingAndGlyphs">Regen</text>
<text xml:space="preserve" transform="translate(670.3 552.0) scale(1.000 1.140)" fill="#000" font-size="11" text-anchor="end" font-weight="bold"  textLength="22.4" lengthAdjust="spacingAndGlyphs">l/m²</text>
<text xml:space="preserve" transform="translate(566.7 568.0) scale(0.972 1.140)" fill="#000" font-size="11" text-anchor="start" font-weight="normal" >Regentage: 30</text>
<text xml:space="preserve" transform="translate(566.7 584.0) scale(0.972 1.140)" fill="#000" font-size="11" text-anchor="start" font-weight="normal" >04.12.  04:05</text>
<text xml:space="preserve" transform="translate(670.0 584.0) scale(0.972 1.140)" fill="#000" font-size="11" text-anchor="end" font-weight="normal" >14.0</text>
<text xml:space="preserve" transform="translate(566.7 600.0) scale(0.972 1.140)" fill="#000" font-size="11" text-anchor="start" font-weight="normal" >Gesamt:</text>
<text xml:space="preserve" transform="translate(670.0 600.0) scale(0.972 1.140)" fill="#000" font-size="11" text-anchor="end" font-weight="normal" >58.8</text>
<text xml:space="preserve" transform="translate(569.7 616.0) scale(0.972 1.140)" fill="#000" font-size="11" text-anchor="start" font-weight="normal" >58.8 l/m²</text>
<text xml:space="preserve" transform="translate(670.3 616.0) scale(1.000 1.140)" fill="#000" font-size="11" text-anchor="end" font-weight="bold"  textLength="17.9" lengthAdjust="spacingAndGlyphs">0.0</text>
<text xml:space="preserve" transform="translate(684.1 552.0) scale(1.000 1.140)" fill="#000" font-size="11" text-anchor="start" font-weight="bold"  textLength="58.7" lengthAdjust="spacingAndGlyphs">PMV+1:15</text>
<text xml:space="preserve" transform="translate(684.4 568.0) scale(0.972 1.140)" fill="#000" font-size="11" text-anchor="start" font-weight="normal" >WC 11.7 °C</text>
<text xml:space="preserve" transform="translate(684.4 584.0) scale(0.972 1.140)" fill="#000" font-size="11" text-anchor="start" font-weight="normal" >TP 10.4 °C</text>
</svg>
</div>
</body></html>
